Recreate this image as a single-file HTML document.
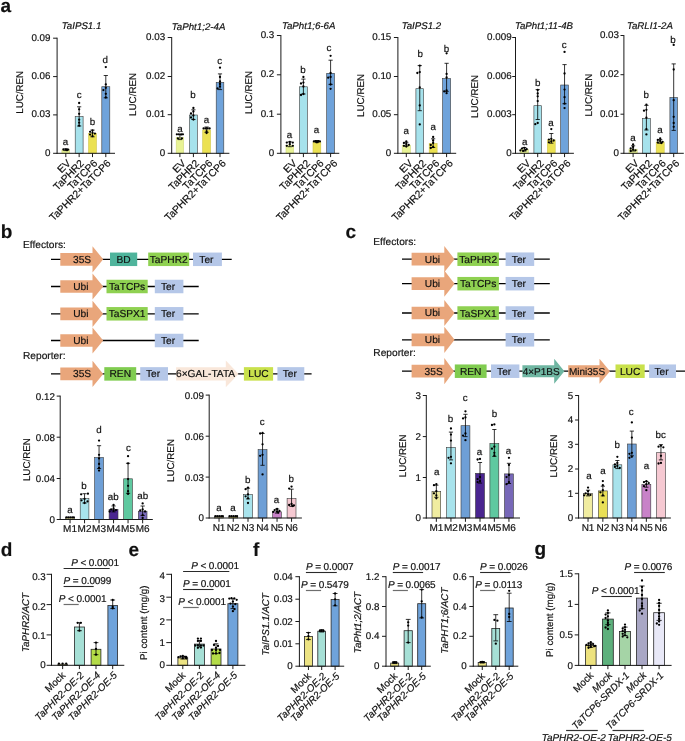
<!DOCTYPE html>
<html><head><meta charset="utf-8"><title>figure</title>
<style>
html,body{margin:0;padding:0;background:#fff;}
body{width:685px;height:741px;overflow:hidden;}
svg{display:block;font-family:"Liberation Sans",Arial,Helvetica,sans-serif;}
text{stroke:#111;stroke-width:0.18px;text-rendering:geometricPrecision;}
</style></head><body>
<svg width="685" height="741" viewBox="0 0 685 741">
<rect x="0" y="0" width="685" height="741" fill="#ffffff"/>
<text x="0.60" y="12.40" font-size="19" text-anchor="start" font-weight="bold" fill="#111" >a</text>
<rect x="61.90" y="150.00" width="7.80" height="3.30" fill="#e8f394" stroke="#cfd97c" stroke-width="0.6"/>
<rect x="75.20" y="116.60" width="7.90" height="36.70" fill="#a6e2ec" stroke="#3a3a3a" stroke-width="0.6"/>
<rect x="88.60" y="133.40" width="7.80" height="19.90" fill="#ebe152" stroke="#cfc548" stroke-width="0.6"/>
<rect x="101.80" y="86.70" width="8.00" height="66.60" fill="#6fa3db" stroke="#3a3a3a" stroke-width="0.6"/>
<line x1="57.10" y1="37.70" x2="57.10" y2="153.80" stroke="#1a1a1a" stroke-width="1.0" />
<line x1="56.60" y1="153.30" x2="115.00" y2="153.30" stroke="#1a1a1a" stroke-width="1.0" />
<line x1="53.10" y1="38.20" x2="57.10" y2="38.20" stroke="#1a1a1a" stroke-width="1.0" />
<text x="50.50" y="40.50" font-size="9.8" text-anchor="end" fill="#111" >0.09</text>
<line x1="53.10" y1="76.60" x2="57.10" y2="76.60" stroke="#1a1a1a" stroke-width="1.0" />
<text x="50.50" y="78.90" font-size="9.8" text-anchor="end" fill="#111" >0.06</text>
<line x1="53.10" y1="114.90" x2="57.10" y2="114.90" stroke="#1a1a1a" stroke-width="1.0" />
<text x="50.50" y="117.20" font-size="9.8" text-anchor="end" fill="#111" >0.03</text>
<line x1="53.10" y1="153.30" x2="57.10" y2="153.30" stroke="#1a1a1a" stroke-width="1.0" />
<text x="50.50" y="155.60" font-size="9.8" text-anchor="end" fill="#111" >0</text>
<line x1="65.80" y1="153.30" x2="65.80" y2="157.10" stroke="#1a1a1a" stroke-width="1.0" />
<line x1="79.15" y1="153.30" x2="79.15" y2="157.10" stroke="#1a1a1a" stroke-width="1.0" />
<line x1="92.50" y1="153.30" x2="92.50" y2="157.10" stroke="#1a1a1a" stroke-width="1.0" />
<line x1="105.80" y1="153.30" x2="105.80" y2="157.10" stroke="#1a1a1a" stroke-width="1.0" />
<line x1="65.80" y1="148.90" x2="65.80" y2="150.60" stroke="#000" stroke-width="0.8" />
<line x1="63.70" y1="148.90" x2="67.90" y2="148.90" stroke="#000" stroke-width="0.8" />
<line x1="63.70" y1="150.60" x2="67.90" y2="150.60" stroke="#000" stroke-width="0.8" />
<line x1="79.15" y1="106.80" x2="79.15" y2="126.00" stroke="#000" stroke-width="0.8" />
<line x1="77.05" y1="106.80" x2="81.25" y2="106.80" stroke="#000" stroke-width="0.8" />
<line x1="77.05" y1="126.00" x2="81.25" y2="126.00" stroke="#000" stroke-width="0.8" />
<line x1="92.50" y1="130.10" x2="92.50" y2="136.80" stroke="#000" stroke-width="0.8" />
<line x1="90.40" y1="130.10" x2="94.60" y2="130.10" stroke="#000" stroke-width="0.8" />
<line x1="90.40" y1="136.80" x2="94.60" y2="136.80" stroke="#000" stroke-width="0.8" />
<line x1="105.80" y1="75.50" x2="105.80" y2="97.80" stroke="#000" stroke-width="0.8" />
<line x1="103.70" y1="75.50" x2="107.90" y2="75.50" stroke="#000" stroke-width="0.8" />
<line x1="103.70" y1="97.80" x2="107.90" y2="97.80" stroke="#000" stroke-width="0.8" />
<circle cx="65.80" cy="149.30" r="1.15" fill="#000"/>
<circle cx="63.40" cy="149.50" r="1.15" fill="#000"/>
<circle cx="68.20" cy="149.60" r="1.15" fill="#000"/>
<circle cx="67.00" cy="149.90" r="1.15" fill="#000"/>
<circle cx="67.00" cy="150.00" r="1.15" fill="#000"/>
<circle cx="67.00" cy="150.10" r="1.15" fill="#000"/>
<circle cx="79.15" cy="103.00" r="1.15" fill="#000"/>
<circle cx="79.15" cy="109.30" r="1.15" fill="#000"/>
<circle cx="79.15" cy="113.80" r="1.15" fill="#000"/>
<circle cx="79.15" cy="119.70" r="1.15" fill="#000"/>
<circle cx="79.15" cy="122.70" r="1.15" fill="#000"/>
<circle cx="79.15" cy="125.70" r="1.15" fill="#000"/>
<circle cx="92.50" cy="130.50" r="1.15" fill="#000"/>
<circle cx="90.10" cy="131.80" r="1.15" fill="#000"/>
<circle cx="92.50" cy="132.80" r="1.15" fill="#000"/>
<circle cx="94.90" cy="133.60" r="1.15" fill="#000"/>
<circle cx="90.10" cy="134.60" r="1.15" fill="#000"/>
<circle cx="92.50" cy="136.20" r="1.15" fill="#000"/>
<circle cx="105.80" cy="67.10" r="1.15" fill="#000"/>
<circle cx="105.80" cy="84.40" r="1.15" fill="#000"/>
<circle cx="105.80" cy="87.80" r="1.15" fill="#000"/>
<circle cx="103.40" cy="90.10" r="1.15" fill="#000"/>
<circle cx="105.80" cy="93.80" r="1.15" fill="#000"/>
<circle cx="105.80" cy="97.50" r="1.15" fill="#000"/>
<text x="65.60" y="145.20" font-size="9.8" text-anchor="middle" fill="#111" >a</text>
<text x="79.10" y="98.30" font-size="9.8" text-anchor="middle" fill="#111" >c</text>
<text x="92.60" y="125.40" font-size="9.8" text-anchor="middle" fill="#111" >b</text>
<text x="105.30" y="63.00" font-size="9.8" text-anchor="middle" fill="#111" >d</text>
<text x="71.30" y="163.90" font-size="10.3" text-anchor="end" transform="rotate(-45 71.30 163.90)" fill="#111" >EV</text>
<text x="84.65" y="163.90" font-size="10.3" text-anchor="end" transform="rotate(-45 84.65 163.90)" fill="#111" >TaPHR2</text>
<text x="98.00" y="163.90" font-size="10.3" text-anchor="end" transform="rotate(-45 98.00 163.90)" fill="#111" >TaTCP6</text>
<text x="111.30" y="163.90" font-size="10.3" text-anchor="end" transform="rotate(-45 111.30 163.90)" fill="#111" >TaPHR2+TaTCP6</text>
<text x="23.40" y="92.30" font-size="9.8" text-anchor="middle" transform="rotate(-90 23.40 92.30)" fill="#111" >LUC/REN</text>
<text x="81.60" y="28.50" font-size="9.7" text-anchor="middle" font-style="italic" fill="#111" >TaIPS1.1</text>
<rect x="176.20" y="137.30" width="7.40" height="16.00" fill="#e8f394" stroke="#cfd97c" stroke-width="0.6"/>
<rect x="189.50" y="115.00" width="7.80" height="38.30" fill="#a6e2ec" stroke="#3a3a3a" stroke-width="0.6"/>
<rect x="202.70" y="129.90" width="7.80" height="23.40" fill="#ebe152" stroke="#cfc548" stroke-width="0.6"/>
<rect x="216.20" y="82.40" width="7.60" height="70.90" fill="#6fa3db" stroke="#3a3a3a" stroke-width="0.6"/>
<line x1="171.70" y1="37.00" x2="171.70" y2="153.80" stroke="#1a1a1a" stroke-width="1.0" />
<line x1="171.20" y1="153.30" x2="229.40" y2="153.30" stroke="#1a1a1a" stroke-width="1.0" />
<line x1="167.70" y1="37.50" x2="171.70" y2="37.50" stroke="#1a1a1a" stroke-width="1.0" />
<text x="165.10" y="39.80" font-size="9.8" text-anchor="end" fill="#111" >0.03</text>
<line x1="167.70" y1="76.50" x2="171.70" y2="76.50" stroke="#1a1a1a" stroke-width="1.0" />
<text x="165.10" y="78.80" font-size="9.8" text-anchor="end" fill="#111" >0.02</text>
<line x1="167.70" y1="114.70" x2="171.70" y2="114.70" stroke="#1a1a1a" stroke-width="1.0" />
<text x="165.10" y="117.00" font-size="9.8" text-anchor="end" fill="#111" >0.01</text>
<line x1="167.70" y1="153.30" x2="171.70" y2="153.30" stroke="#1a1a1a" stroke-width="1.0" />
<text x="165.10" y="155.60" font-size="9.8" text-anchor="end" fill="#111" >0</text>
<line x1="179.90" y1="153.30" x2="179.90" y2="157.10" stroke="#1a1a1a" stroke-width="1.0" />
<line x1="193.40" y1="153.30" x2="193.40" y2="157.10" stroke="#1a1a1a" stroke-width="1.0" />
<line x1="206.60" y1="153.30" x2="206.60" y2="157.10" stroke="#1a1a1a" stroke-width="1.0" />
<line x1="220.00" y1="153.30" x2="220.00" y2="157.10" stroke="#1a1a1a" stroke-width="1.0" />
<line x1="179.90" y1="134.40" x2="179.90" y2="139.60" stroke="#000" stroke-width="0.8" />
<line x1="177.80" y1="134.40" x2="182.00" y2="134.40" stroke="#000" stroke-width="0.8" />
<line x1="177.80" y1="139.60" x2="182.00" y2="139.60" stroke="#000" stroke-width="0.8" />
<line x1="193.40" y1="109.80" x2="193.40" y2="119.50" stroke="#000" stroke-width="0.8" />
<line x1="191.30" y1="109.80" x2="195.50" y2="109.80" stroke="#000" stroke-width="0.8" />
<line x1="191.30" y1="119.50" x2="195.50" y2="119.50" stroke="#000" stroke-width="0.8" />
<line x1="206.60" y1="127.00" x2="206.60" y2="132.30" stroke="#000" stroke-width="0.8" />
<line x1="204.50" y1="127.00" x2="208.70" y2="127.00" stroke="#000" stroke-width="0.8" />
<line x1="204.50" y1="132.30" x2="208.70" y2="132.30" stroke="#000" stroke-width="0.8" />
<line x1="220.00" y1="73.90" x2="220.00" y2="89.60" stroke="#000" stroke-width="0.8" />
<line x1="217.90" y1="73.90" x2="222.10" y2="73.90" stroke="#000" stroke-width="0.8" />
<line x1="217.90" y1="89.60" x2="222.10" y2="89.60" stroke="#000" stroke-width="0.8" />
<circle cx="176.90" cy="134.30" r="1.15" fill="#000"/>
<circle cx="178.90" cy="134.30" r="1.15" fill="#000"/>
<circle cx="181.10" cy="134.50" r="1.15" fill="#000"/>
<circle cx="182.90" cy="134.30" r="1.15" fill="#000"/>
<circle cx="177.90" cy="138.40" r="1.15" fill="#000"/>
<circle cx="181.90" cy="138.40" r="1.15" fill="#000"/>
<circle cx="193.40" cy="108.00" r="1.15" fill="#000"/>
<circle cx="193.40" cy="111.50" r="1.15" fill="#000"/>
<circle cx="191.00" cy="113.50" r="1.15" fill="#000"/>
<circle cx="193.40" cy="115.50" r="1.15" fill="#000"/>
<circle cx="191.00" cy="117.50" r="1.15" fill="#000"/>
<circle cx="193.40" cy="119.50" r="1.15" fill="#000"/>
<circle cx="203.60" cy="128.40" r="1.15" fill="#000"/>
<circle cx="205.60" cy="128.40" r="1.15" fill="#000"/>
<circle cx="207.60" cy="128.40" r="1.15" fill="#000"/>
<circle cx="209.60" cy="128.40" r="1.15" fill="#000"/>
<circle cx="206.60" cy="131.30" r="1.15" fill="#000"/>
<circle cx="206.60" cy="133.00" r="1.15" fill="#000"/>
<circle cx="220.00" cy="67.70" r="1.15" fill="#000"/>
<circle cx="220.00" cy="77.00" r="1.15" fill="#000"/>
<circle cx="220.00" cy="81.50" r="1.15" fill="#000"/>
<circle cx="220.00" cy="84.00" r="1.15" fill="#000"/>
<circle cx="220.00" cy="86.50" r="1.15" fill="#000"/>
<circle cx="217.60" cy="88.50" r="1.15" fill="#000"/>
<text x="179.90" y="132.20" font-size="9.8" text-anchor="middle" fill="#111" >a</text>
<text x="193.10" y="98.30" font-size="9.8" text-anchor="middle" fill="#111" >b</text>
<text x="206.40" y="122.60" font-size="9.8" text-anchor="middle" fill="#111" >a</text>
<text x="219.60" y="63.60" font-size="9.8" text-anchor="middle" fill="#111" >c</text>
<text x="186.40" y="163.90" font-size="10.3" text-anchor="end" transform="rotate(-45 186.40 163.90)" fill="#111" >EV</text>
<text x="199.90" y="163.90" font-size="10.3" text-anchor="end" transform="rotate(-45 199.90 163.90)" fill="#111" >TaPHR2</text>
<text x="213.10" y="163.90" font-size="10.3" text-anchor="end" transform="rotate(-45 213.10 163.90)" fill="#111" >TaTCP6</text>
<text x="226.50" y="163.90" font-size="10.3" text-anchor="end" transform="rotate(-45 226.50 163.90)" fill="#111" >TaPHR2+TaTCP6</text>
<text x="135.60" y="94.40" font-size="9.8" text-anchor="middle" transform="rotate(-90 135.60 94.40)" fill="#111" >LUC/REN</text>
<text x="198.60" y="29.60" font-size="9.7" text-anchor="middle" font-style="italic" fill="#111" >TaPht1;2-4A</text>
<rect x="286.00" y="145.20" width="7.60" height="8.10" fill="#e8f394" stroke="#cfd97c" stroke-width="0.6"/>
<rect x="299.50" y="86.80" width="7.80" height="66.50" fill="#a6e2ec" stroke="#3a3a3a" stroke-width="0.6"/>
<rect x="313.00" y="142.10" width="7.80" height="11.20" fill="#ebe152" stroke="#cfc548" stroke-width="0.6"/>
<rect x="326.70" y="73.30" width="7.80" height="80.00" fill="#6fa3db" stroke="#3a3a3a" stroke-width="0.6"/>
<line x1="280.90" y1="35.00" x2="280.90" y2="153.80" stroke="#1a1a1a" stroke-width="1.0" />
<line x1="280.40" y1="153.30" x2="339.30" y2="153.30" stroke="#1a1a1a" stroke-width="1.0" />
<line x1="276.90" y1="35.50" x2="280.90" y2="35.50" stroke="#1a1a1a" stroke-width="1.0" />
<text x="274.30" y="37.80" font-size="9.8" text-anchor="end" fill="#111" >0.3</text>
<line x1="276.90" y1="74.80" x2="280.90" y2="74.80" stroke="#1a1a1a" stroke-width="1.0" />
<text x="274.30" y="77.10" font-size="9.8" text-anchor="end" fill="#111" >0.2</text>
<line x1="276.90" y1="114.20" x2="280.90" y2="114.20" stroke="#1a1a1a" stroke-width="1.0" />
<text x="274.30" y="116.50" font-size="9.8" text-anchor="end" fill="#111" >0.1</text>
<line x1="276.90" y1="153.30" x2="280.90" y2="153.30" stroke="#1a1a1a" stroke-width="1.0" />
<text x="274.30" y="155.60" font-size="9.8" text-anchor="end" fill="#111" >0</text>
<line x1="289.80" y1="153.30" x2="289.80" y2="157.10" stroke="#1a1a1a" stroke-width="1.0" />
<line x1="303.40" y1="153.30" x2="303.40" y2="157.10" stroke="#1a1a1a" stroke-width="1.0" />
<line x1="316.90" y1="153.30" x2="316.90" y2="157.10" stroke="#1a1a1a" stroke-width="1.0" />
<line x1="330.60" y1="153.30" x2="330.60" y2="157.10" stroke="#1a1a1a" stroke-width="1.0" />
<line x1="289.80" y1="141.90" x2="289.80" y2="146.70" stroke="#000" stroke-width="0.8" />
<line x1="287.70" y1="141.90" x2="291.90" y2="141.90" stroke="#000" stroke-width="0.8" />
<line x1="287.70" y1="146.70" x2="291.90" y2="146.70" stroke="#000" stroke-width="0.8" />
<line x1="303.40" y1="79.10" x2="303.40" y2="94.00" stroke="#000" stroke-width="0.8" />
<line x1="301.30" y1="79.10" x2="305.50" y2="79.10" stroke="#000" stroke-width="0.8" />
<line x1="301.30" y1="94.00" x2="305.50" y2="94.00" stroke="#000" stroke-width="0.8" />
<line x1="316.90" y1="140.50" x2="316.90" y2="142.60" stroke="#000" stroke-width="0.8" />
<line x1="314.80" y1="140.50" x2="319.00" y2="140.50" stroke="#000" stroke-width="0.8" />
<line x1="314.80" y1="142.60" x2="319.00" y2="142.60" stroke="#000" stroke-width="0.8" />
<line x1="330.60" y1="60.20" x2="330.60" y2="84.40" stroke="#000" stroke-width="0.8" />
<line x1="328.50" y1="60.20" x2="332.70" y2="60.20" stroke="#000" stroke-width="0.8" />
<line x1="328.50" y1="84.40" x2="332.70" y2="84.40" stroke="#000" stroke-width="0.8" />
<circle cx="286.80" cy="142.60" r="1.15" fill="#000"/>
<circle cx="292.80" cy="142.60" r="1.15" fill="#000"/>
<circle cx="286.80" cy="145.80" r="1.15" fill="#000"/>
<circle cx="292.80" cy="145.80" r="1.15" fill="#000"/>
<circle cx="289.80" cy="144.20" r="1.15" fill="#000"/>
<circle cx="289.80" cy="142.00" r="1.15" fill="#000"/>
<circle cx="303.40" cy="77.00" r="1.15" fill="#000"/>
<circle cx="303.40" cy="82.60" r="1.15" fill="#000"/>
<circle cx="301.00" cy="83.50" r="1.15" fill="#000"/>
<circle cx="303.40" cy="86.50" r="1.15" fill="#000"/>
<circle cx="303.40" cy="94.00" r="1.15" fill="#000"/>
<circle cx="301.00" cy="95.00" r="1.15" fill="#000"/>
<circle cx="313.90" cy="141.40" r="1.15" fill="#000"/>
<circle cx="315.40" cy="141.20" r="1.15" fill="#000"/>
<circle cx="316.90" cy="141.40" r="1.15" fill="#000"/>
<circle cx="318.40" cy="141.20" r="1.15" fill="#000"/>
<circle cx="319.90" cy="141.40" r="1.15" fill="#000"/>
<circle cx="316.90" cy="142.30" r="1.15" fill="#000"/>
<circle cx="330.60" cy="55.80" r="1.15" fill="#000"/>
<circle cx="330.60" cy="73.00" r="1.15" fill="#000"/>
<circle cx="330.60" cy="77.00" r="1.15" fill="#000"/>
<circle cx="328.20" cy="77.70" r="1.15" fill="#000"/>
<circle cx="330.60" cy="84.50" r="1.15" fill="#000"/>
<circle cx="330.60" cy="88.80" r="1.15" fill="#000"/>
<text x="289.50" y="138.20" font-size="9.8" text-anchor="middle" fill="#111" >a</text>
<text x="303.00" y="73.40" font-size="9.8" text-anchor="middle" fill="#111" >b</text>
<text x="316.40" y="133.40" font-size="9.8" text-anchor="middle" fill="#111" >a</text>
<text x="329.00" y="51.00" font-size="9.8" text-anchor="middle" fill="#111" >c</text>
<text x="297.30" y="163.90" font-size="10.3" text-anchor="end" transform="rotate(-45 297.30 163.90)" fill="#111" >EV</text>
<text x="310.90" y="163.90" font-size="10.3" text-anchor="end" transform="rotate(-45 310.90 163.90)" fill="#111" >TaPHR2</text>
<text x="324.40" y="163.90" font-size="10.3" text-anchor="end" transform="rotate(-45 324.40 163.90)" fill="#111" >TaTCP6</text>
<text x="338.10" y="163.90" font-size="10.3" text-anchor="end" transform="rotate(-45 338.10 163.90)" fill="#111" >TaPHR2+TaTCP6</text>
<text x="252.00" y="92.40" font-size="9.8" text-anchor="middle" transform="rotate(-90 252.00 92.40)" fill="#111" >LUC/REN</text>
<text x="308.70" y="29.10" font-size="9.7" text-anchor="middle" font-style="italic" fill="#111" >TaPht1;6-6A</text>
<rect x="402.20" y="145.20" width="8.20" height="8.10" fill="#e8f394" stroke="#cfd97c" stroke-width="0.6"/>
<rect x="415.90" y="88.70" width="7.70" height="64.60" fill="#a6e2ec" stroke="#3a3a3a" stroke-width="0.6"/>
<rect x="429.20" y="143.50" width="7.90" height="9.80" fill="#ebe152" stroke="#cfc548" stroke-width="0.6"/>
<rect x="442.60" y="78.50" width="8.00" height="74.80" fill="#6fa3db" stroke="#3a3a3a" stroke-width="0.6"/>
<line x1="397.90" y1="37.00" x2="397.90" y2="153.80" stroke="#1a1a1a" stroke-width="1.0" />
<line x1="397.40" y1="153.30" x2="456.20" y2="153.30" stroke="#1a1a1a" stroke-width="1.0" />
<line x1="393.90" y1="37.50" x2="397.90" y2="37.50" stroke="#1a1a1a" stroke-width="1.0" />
<text x="391.30" y="39.80" font-size="9.8" text-anchor="end" fill="#111" >0.15</text>
<line x1="393.90" y1="76.50" x2="397.90" y2="76.50" stroke="#1a1a1a" stroke-width="1.0" />
<text x="391.30" y="78.80" font-size="9.8" text-anchor="end" fill="#111" >0.10</text>
<line x1="393.90" y1="114.70" x2="397.90" y2="114.70" stroke="#1a1a1a" stroke-width="1.0" />
<text x="391.30" y="117.00" font-size="9.8" text-anchor="end" fill="#111" >0.05</text>
<line x1="393.90" y1="153.30" x2="397.90" y2="153.30" stroke="#1a1a1a" stroke-width="1.0" />
<text x="391.30" y="155.60" font-size="9.8" text-anchor="end" fill="#111" >0</text>
<line x1="406.30" y1="153.30" x2="406.30" y2="157.10" stroke="#1a1a1a" stroke-width="1.0" />
<line x1="419.75" y1="153.30" x2="419.75" y2="157.10" stroke="#1a1a1a" stroke-width="1.0" />
<line x1="433.15" y1="153.30" x2="433.15" y2="157.10" stroke="#1a1a1a" stroke-width="1.0" />
<line x1="446.60" y1="153.30" x2="446.60" y2="157.10" stroke="#1a1a1a" stroke-width="1.0" />
<line x1="406.30" y1="142.30" x2="406.30" y2="146.10" stroke="#000" stroke-width="0.8" />
<line x1="404.20" y1="142.30" x2="408.40" y2="142.30" stroke="#000" stroke-width="0.8" />
<line x1="404.20" y1="146.10" x2="408.40" y2="146.10" stroke="#000" stroke-width="0.8" />
<line x1="419.75" y1="65.60" x2="419.75" y2="110.70" stroke="#000" stroke-width="0.8" />
<line x1="417.65" y1="65.60" x2="421.85" y2="65.60" stroke="#000" stroke-width="0.8" />
<line x1="417.65" y1="110.70" x2="421.85" y2="110.70" stroke="#000" stroke-width="0.8" />
<line x1="433.15" y1="138.80" x2="433.15" y2="147.50" stroke="#000" stroke-width="0.8" />
<line x1="431.05" y1="138.80" x2="435.25" y2="138.80" stroke="#000" stroke-width="0.8" />
<line x1="431.05" y1="147.50" x2="435.25" y2="147.50" stroke="#000" stroke-width="0.8" />
<line x1="446.60" y1="63.30" x2="446.60" y2="91.40" stroke="#000" stroke-width="0.8" />
<line x1="444.50" y1="63.30" x2="448.70" y2="63.30" stroke="#000" stroke-width="0.8" />
<line x1="444.50" y1="91.40" x2="448.70" y2="91.40" stroke="#000" stroke-width="0.8" />
<circle cx="406.30" cy="141.50" r="1.15" fill="#000"/>
<circle cx="403.90" cy="143.00" r="1.15" fill="#000"/>
<circle cx="406.30" cy="144.00" r="1.15" fill="#000"/>
<circle cx="408.70" cy="145.00" r="1.15" fill="#000"/>
<circle cx="403.90" cy="145.80" r="1.15" fill="#000"/>
<circle cx="406.30" cy="146.50" r="1.15" fill="#000"/>
<circle cx="419.75" cy="65.60" r="1.15" fill="#000"/>
<circle cx="419.75" cy="72.10" r="1.15" fill="#000"/>
<circle cx="417.35" cy="73.00" r="1.15" fill="#000"/>
<circle cx="419.75" cy="87.40" r="1.15" fill="#000"/>
<circle cx="419.75" cy="105.40" r="1.15" fill="#000"/>
<circle cx="419.75" cy="124.40" r="1.15" fill="#000"/>
<circle cx="433.15" cy="137.00" r="1.15" fill="#000"/>
<circle cx="433.15" cy="140.50" r="1.15" fill="#000"/>
<circle cx="433.15" cy="143.00" r="1.15" fill="#000"/>
<circle cx="430.75" cy="145.00" r="1.15" fill="#000"/>
<circle cx="433.15" cy="147.00" r="1.15" fill="#000"/>
<circle cx="430.75" cy="148.00" r="1.15" fill="#000"/>
<circle cx="446.60" cy="53.30" r="1.15" fill="#000"/>
<circle cx="446.60" cy="73.90" r="1.15" fill="#000"/>
<circle cx="446.60" cy="77.40" r="1.15" fill="#000"/>
<circle cx="446.60" cy="90.50" r="1.15" fill="#000"/>
<circle cx="444.20" cy="91.40" r="1.15" fill="#000"/>
<circle cx="446.60" cy="93.20" r="1.15" fill="#000"/>
<text x="406.30" y="134.30" font-size="9.8" text-anchor="middle" fill="#111" >a</text>
<text x="420.20" y="57.10" font-size="9.8" text-anchor="middle" fill="#111" >b</text>
<text x="433.20" y="129.90" font-size="9.8" text-anchor="middle" fill="#111" >a</text>
<text x="446.50" y="51.50" font-size="9.8" text-anchor="middle" fill="#111" >b</text>
<text x="413.30" y="163.90" font-size="10.3" text-anchor="end" transform="rotate(-45 413.30 163.90)" fill="#111" >EV</text>
<text x="426.75" y="163.90" font-size="10.3" text-anchor="end" transform="rotate(-45 426.75 163.90)" fill="#111" >TaPHR2</text>
<text x="440.15" y="163.90" font-size="10.3" text-anchor="end" transform="rotate(-45 440.15 163.90)" fill="#111" >TaTCP6</text>
<text x="453.60" y="163.90" font-size="10.3" text-anchor="end" transform="rotate(-45 453.60 163.90)" fill="#111" >TaPHR2+TaTCP6</text>
<text x="364.20" y="95.40" font-size="9.8" text-anchor="middle" transform="rotate(-90 364.20 95.40)" fill="#111" >LUC/REN</text>
<text x="421.40" y="29.00" font-size="9.7" text-anchor="middle" font-style="italic" fill="#111" >TaIPS1.2</text>
<rect x="520.20" y="149.60" width="8.20" height="3.70" fill="#e8f394" stroke="#cfd97c" stroke-width="0.6"/>
<rect x="533.90" y="105.70" width="7.60" height="47.60" fill="#a6e2ec" stroke="#3a3a3a" stroke-width="0.6"/>
<rect x="547.40" y="139.90" width="7.80" height="13.40" fill="#ebe152" stroke="#cfc548" stroke-width="0.6"/>
<rect x="560.70" y="85.00" width="7.70" height="68.30" fill="#6fa3db" stroke="#3a3a3a" stroke-width="0.6"/>
<line x1="515.50" y1="37.00" x2="515.50" y2="153.80" stroke="#1a1a1a" stroke-width="1.0" />
<line x1="515.00" y1="153.30" x2="573.90" y2="153.30" stroke="#1a1a1a" stroke-width="1.0" />
<line x1="512.20" y1="37.50" x2="515.50" y2="37.50" stroke="#1a1a1a" stroke-width="1.0" />
<text x="511.60" y="39.80" font-size="9.8" text-anchor="end" fill="#111" >0.009</text>
<line x1="512.20" y1="76.50" x2="515.50" y2="76.50" stroke="#1a1a1a" stroke-width="1.0" />
<text x="511.60" y="78.80" font-size="9.8" text-anchor="end" fill="#111" >0.006</text>
<line x1="512.20" y1="114.70" x2="515.50" y2="114.70" stroke="#1a1a1a" stroke-width="1.0" />
<text x="511.60" y="117.00" font-size="9.8" text-anchor="end" fill="#111" >0.003</text>
<line x1="512.20" y1="153.30" x2="515.50" y2="153.30" stroke="#1a1a1a" stroke-width="1.0" />
<text x="511.60" y="155.60" font-size="9.8" text-anchor="end" fill="#111" >0</text>
<line x1="524.30" y1="153.30" x2="524.30" y2="157.10" stroke="#1a1a1a" stroke-width="1.0" />
<line x1="537.70" y1="153.30" x2="537.70" y2="157.10" stroke="#1a1a1a" stroke-width="1.0" />
<line x1="551.30" y1="153.30" x2="551.30" y2="157.10" stroke="#1a1a1a" stroke-width="1.0" />
<line x1="564.55" y1="153.30" x2="564.55" y2="157.10" stroke="#1a1a1a" stroke-width="1.0" />
<line x1="524.30" y1="147.50" x2="524.30" y2="151.10" stroke="#000" stroke-width="0.8" />
<line x1="522.20" y1="147.50" x2="526.40" y2="147.50" stroke="#000" stroke-width="0.8" />
<line x1="522.20" y1="151.10" x2="526.40" y2="151.10" stroke="#000" stroke-width="0.8" />
<line x1="537.70" y1="89.60" x2="537.70" y2="119.50" stroke="#000" stroke-width="0.8" />
<line x1="535.60" y1="89.60" x2="539.80" y2="89.60" stroke="#000" stroke-width="0.8" />
<line x1="535.60" y1="119.50" x2="539.80" y2="119.50" stroke="#000" stroke-width="0.8" />
<line x1="551.30" y1="133.50" x2="551.30" y2="143.20" stroke="#000" stroke-width="0.8" />
<line x1="549.20" y1="133.50" x2="553.40" y2="133.50" stroke="#000" stroke-width="0.8" />
<line x1="549.20" y1="143.20" x2="553.40" y2="143.20" stroke="#000" stroke-width="0.8" />
<line x1="564.55" y1="64.60" x2="564.55" y2="103.70" stroke="#000" stroke-width="0.8" />
<line x1="562.45" y1="64.60" x2="566.65" y2="64.60" stroke="#000" stroke-width="0.8" />
<line x1="562.45" y1="103.70" x2="566.65" y2="103.70" stroke="#000" stroke-width="0.8" />
<circle cx="524.30" cy="147.80" r="1.15" fill="#000"/>
<circle cx="521.90" cy="148.60" r="1.15" fill="#000"/>
<circle cx="526.70" cy="149.20" r="1.15" fill="#000"/>
<circle cx="525.50" cy="149.80" r="1.15" fill="#000"/>
<circle cx="520.40" cy="150.40" r="1.15" fill="#000"/>
<circle cx="523.10" cy="150.90" r="1.15" fill="#000"/>
<circle cx="537.70" cy="90.00" r="1.15" fill="#000"/>
<circle cx="537.70" cy="93.50" r="1.15" fill="#000"/>
<circle cx="537.70" cy="96.30" r="1.15" fill="#000"/>
<circle cx="537.70" cy="101.10" r="1.15" fill="#000"/>
<circle cx="537.70" cy="123.00" r="1.15" fill="#000"/>
<circle cx="535.30" cy="124.20" r="1.15" fill="#000"/>
<circle cx="551.30" cy="129.10" r="1.15" fill="#000"/>
<circle cx="551.30" cy="138.80" r="1.15" fill="#000"/>
<circle cx="548.90" cy="139.60" r="1.15" fill="#000"/>
<circle cx="553.70" cy="140.50" r="1.15" fill="#000"/>
<circle cx="551.30" cy="141.40" r="1.15" fill="#000"/>
<circle cx="548.90" cy="142.30" r="1.15" fill="#000"/>
<circle cx="564.55" cy="51.90" r="1.15" fill="#000"/>
<circle cx="564.55" cy="73.50" r="1.15" fill="#000"/>
<circle cx="564.55" cy="89.60" r="1.15" fill="#000"/>
<circle cx="564.55" cy="97.20" r="1.15" fill="#000"/>
<circle cx="564.55" cy="103.70" r="1.15" fill="#000"/>
<circle cx="564.55" cy="108.10" r="1.15" fill="#000"/>
<text x="524.80" y="144.80" font-size="9.8" text-anchor="middle" fill="#111" >a</text>
<text x="537.80" y="85.50" font-size="9.8" text-anchor="middle" fill="#111" >b</text>
<text x="551.10" y="126.10" font-size="9.8" text-anchor="middle" fill="#111" >a</text>
<text x="564.30" y="47.50" font-size="9.8" text-anchor="middle" fill="#111" >c</text>
<text x="531.10" y="163.90" font-size="10.3" text-anchor="end" transform="rotate(-45 531.10 163.90)" fill="#111" >EV</text>
<text x="544.50" y="163.90" font-size="10.3" text-anchor="end" transform="rotate(-45 544.50 163.90)" fill="#111" >TaPHR2</text>
<text x="558.10" y="163.90" font-size="10.3" text-anchor="end" transform="rotate(-45 558.10 163.90)" fill="#111" >TaTCP6</text>
<text x="571.35" y="163.90" font-size="10.3" text-anchor="end" transform="rotate(-45 571.35 163.90)" fill="#111" >TaPHR2+TaTCP6</text>
<text x="477.70" y="96.40" font-size="9.8" text-anchor="middle" transform="rotate(-90 477.70 96.40)" fill="#111" >LUC/REN</text>
<text x="544.00" y="29.40" font-size="9.7" text-anchor="middle" font-style="italic" fill="#111" >TaPht1;11-4B</text>
<rect x="629.00" y="149.20" width="8.20" height="4.10" fill="#e8f394" stroke="#cfd97c" stroke-width="0.6"/>
<rect x="642.50" y="118.50" width="7.80" height="34.80" fill="#a6e2ec" stroke="#3a3a3a" stroke-width="0.6"/>
<rect x="656.20" y="142.10" width="8.00" height="11.20" fill="#ebe152" stroke="#cfc548" stroke-width="0.6"/>
<rect x="669.90" y="97.50" width="7.60" height="55.80" fill="#6fa3db" stroke="#3a3a3a" stroke-width="0.6"/>
<line x1="623.90" y1="35.00" x2="623.90" y2="153.80" stroke="#1a1a1a" stroke-width="1.0" />
<line x1="623.40" y1="153.30" x2="683.80" y2="153.30" stroke="#1a1a1a" stroke-width="1.0" />
<line x1="620.50" y1="35.50" x2="623.90" y2="35.50" stroke="#1a1a1a" stroke-width="1.0" />
<text x="619.00" y="37.80" font-size="9.8" text-anchor="end" fill="#111" >0.03</text>
<line x1="620.50" y1="74.70" x2="623.90" y2="74.70" stroke="#1a1a1a" stroke-width="1.0" />
<text x="619.00" y="77.00" font-size="9.8" text-anchor="end" fill="#111" >0.02</text>
<line x1="620.50" y1="114.20" x2="623.90" y2="114.20" stroke="#1a1a1a" stroke-width="1.0" />
<text x="619.00" y="116.50" font-size="9.8" text-anchor="end" fill="#111" >0.01</text>
<line x1="620.50" y1="153.30" x2="623.90" y2="153.30" stroke="#1a1a1a" stroke-width="1.0" />
<text x="619.00" y="155.60" font-size="9.8" text-anchor="end" fill="#111" >0</text>
<line x1="633.10" y1="153.30" x2="633.10" y2="157.10" stroke="#1a1a1a" stroke-width="1.0" />
<line x1="646.40" y1="153.30" x2="646.40" y2="157.10" stroke="#1a1a1a" stroke-width="1.0" />
<line x1="660.20" y1="153.30" x2="660.20" y2="157.10" stroke="#1a1a1a" stroke-width="1.0" />
<line x1="673.70" y1="153.30" x2="673.70" y2="157.10" stroke="#1a1a1a" stroke-width="1.0" />
<line x1="633.10" y1="145.80" x2="633.10" y2="151.00" stroke="#000" stroke-width="0.8" />
<line x1="631.00" y1="145.80" x2="635.20" y2="145.80" stroke="#000" stroke-width="0.8" />
<line x1="631.00" y1="151.00" x2="635.20" y2="151.00" stroke="#000" stroke-width="0.8" />
<line x1="646.40" y1="105.40" x2="646.40" y2="130.00" stroke="#000" stroke-width="0.8" />
<line x1="644.30" y1="105.40" x2="648.50" y2="105.40" stroke="#000" stroke-width="0.8" />
<line x1="644.30" y1="130.00" x2="648.50" y2="130.00" stroke="#000" stroke-width="0.8" />
<line x1="660.20" y1="139.60" x2="660.20" y2="143.20" stroke="#000" stroke-width="0.8" />
<line x1="658.10" y1="139.60" x2="662.30" y2="139.60" stroke="#000" stroke-width="0.8" />
<line x1="658.10" y1="143.20" x2="662.30" y2="143.20" stroke="#000" stroke-width="0.8" />
<line x1="673.70" y1="63.90" x2="673.70" y2="130.40" stroke="#000" stroke-width="0.8" />
<line x1="671.60" y1="63.90" x2="675.80" y2="63.90" stroke="#000" stroke-width="0.8" />
<line x1="671.60" y1="130.40" x2="675.80" y2="130.40" stroke="#000" stroke-width="0.8" />
<circle cx="633.10" cy="144.50" r="1.15" fill="#000"/>
<circle cx="633.10" cy="147.00" r="1.15" fill="#000"/>
<circle cx="630.70" cy="148.50" r="1.15" fill="#000"/>
<circle cx="633.10" cy="149.50" r="1.15" fill="#000"/>
<circle cx="635.50" cy="150.30" r="1.15" fill="#000"/>
<circle cx="630.70" cy="151.00" r="1.15" fill="#000"/>
<circle cx="646.40" cy="104.60" r="1.15" fill="#000"/>
<circle cx="646.40" cy="109.80" r="1.15" fill="#000"/>
<circle cx="644.00" cy="110.70" r="1.15" fill="#000"/>
<circle cx="646.40" cy="117.70" r="1.15" fill="#000"/>
<circle cx="646.40" cy="129.10" r="1.15" fill="#000"/>
<circle cx="646.40" cy="134.40" r="1.15" fill="#000"/>
<circle cx="660.20" cy="138.50" r="1.15" fill="#000"/>
<circle cx="657.80" cy="140.00" r="1.15" fill="#000"/>
<circle cx="660.20" cy="141.00" r="1.15" fill="#000"/>
<circle cx="662.60" cy="141.80" r="1.15" fill="#000"/>
<circle cx="657.80" cy="142.50" r="1.15" fill="#000"/>
<circle cx="661.40" cy="143.00" r="1.15" fill="#000"/>
<circle cx="673.70" cy="44.90" r="1.15" fill="#000"/>
<circle cx="673.70" cy="69.50" r="1.15" fill="#000"/>
<circle cx="673.70" cy="100.20" r="1.15" fill="#000"/>
<circle cx="673.70" cy="116.80" r="1.15" fill="#000"/>
<circle cx="673.70" cy="123.00" r="1.15" fill="#000"/>
<circle cx="673.70" cy="126.80" r="1.15" fill="#000"/>
<text x="633.10" y="141.30" font-size="9.8" text-anchor="middle" fill="#111" >a</text>
<text x="646.20" y="98.30" font-size="9.8" text-anchor="middle" fill="#111" >b</text>
<text x="659.90" y="133.10" font-size="9.8" text-anchor="middle" fill="#111" >a</text>
<text x="672.90" y="43.10" font-size="9.8" text-anchor="middle" fill="#111" >b</text>
<text x="639.40" y="163.90" font-size="10.3" text-anchor="end" transform="rotate(-45 639.40 163.90)" fill="#111" >EV</text>
<text x="652.70" y="163.90" font-size="10.3" text-anchor="end" transform="rotate(-45 652.70 163.90)" fill="#111" >TaPHR2</text>
<text x="666.50" y="163.90" font-size="10.3" text-anchor="end" transform="rotate(-45 666.50 163.90)" fill="#111" >TaTCP6</text>
<text x="680.00" y="163.90" font-size="10.3" text-anchor="end" transform="rotate(-45 680.00 163.90)" fill="#111" >TaPHR2+TaTCP6</text>
<text x="591.70" y="95.10" font-size="9.8" text-anchor="middle" transform="rotate(-90 591.70 95.10)" fill="#111" >LUC/REN</text>
<text x="649.90" y="29.40" font-size="9.7" text-anchor="middle" font-style="italic" fill="#111" >TaRLI1-2A</text>
<text x="0.80" y="237.60" font-size="19" text-anchor="start" font-weight="bold" fill="#111" >b</text>
<text x="23.00" y="247.60" font-size="10.2" text-anchor="start" fill="#111" >Effectors:</text>
<text x="23.00" y="359.00" font-size="10.2" text-anchor="start" fill="#111" >Reporter:</text>
<line x1="51.00" y1="259.30" x2="231.70" y2="259.30" stroke="#000" stroke-width="1.3" />
<polygon points="60.30,252.95 92.50,252.95 92.50,246.20 103.20,259.30 92.50,272.40 92.50,265.65 60.30,265.65" fill="#e9a67b"/>
<text x="82.10" y="262.70" font-size="10.2" text-anchor="middle" fill="#111" >35S</text>
<rect x="110.00" y="252.55" width="27.20" height="13.50" fill="#4fb49c"/>
<text x="123.60" y="262.80" font-size="10.2" text-anchor="middle" fill="#111" >BD</text>
<rect x="148.20" y="252.55" width="41.00" height="13.50" fill="#8fd151"/>
<text x="168.70" y="262.80" font-size="10.2" text-anchor="middle" fill="#111" >TaPHR2</text>
<rect x="193.00" y="252.55" width="28.90" height="13.50" fill="#b5c7e8"/>
<text x="206.45" y="262.80" font-size="10.2" text-anchor="middle" fill="#111" >Ter</text>
<line x1="51.00" y1="286.50" x2="198.70" y2="286.50" stroke="#000" stroke-width="1.3" />
<polygon points="60.30,280.15 92.50,280.15 92.50,273.40 103.20,286.50 92.50,299.60 92.50,292.85 60.30,292.85" fill="#e9a67b"/>
<text x="80.90" y="289.90" font-size="10.2" text-anchor="middle" fill="#111" >Ubi</text>
<rect x="106.50" y="279.75" width="41.20" height="13.50" fill="#8fd151"/>
<text x="127.10" y="290.00" font-size="10.2" text-anchor="middle" fill="#111" >TaTCPs</text>
<rect x="154.80" y="279.75" width="28.60" height="13.50" fill="#b5c7e8"/>
<text x="168.10" y="290.00" font-size="10.2" text-anchor="middle" fill="#111" >Ter</text>
<line x1="51.00" y1="313.80" x2="198.70" y2="313.80" stroke="#000" stroke-width="1.3" />
<polygon points="60.30,307.45 92.50,307.45 92.50,300.70 103.20,313.80 92.50,326.90 92.50,320.15 60.30,320.15" fill="#e9a67b"/>
<text x="80.90" y="317.20" font-size="10.2" text-anchor="middle" fill="#111" >Ubi</text>
<rect x="106.50" y="307.05" width="41.20" height="13.50" fill="#8fd151"/>
<text x="127.10" y="317.30" font-size="10.2" text-anchor="middle" fill="#111" >TaSPX1</text>
<rect x="154.80" y="307.05" width="28.60" height="13.50" fill="#b5c7e8"/>
<text x="168.10" y="317.30" font-size="10.2" text-anchor="middle" fill="#111" >Ter</text>
<line x1="51.00" y1="340.50" x2="198.70" y2="340.50" stroke="#000" stroke-width="1.3" />
<polygon points="60.30,334.15 92.50,334.15 92.50,327.40 103.20,340.50 92.50,353.60 92.50,346.85 60.30,346.85" fill="#e9a67b"/>
<text x="80.90" y="343.90" font-size="10.2" text-anchor="middle" fill="#111" >Ubi</text>
<rect x="154.80" y="333.75" width="28.60" height="13.50" fill="#b5c7e8"/>
<text x="168.10" y="344.00" font-size="10.2" text-anchor="middle" fill="#111" >Ter</text>
<line x1="51.00" y1="373.90" x2="311.60" y2="373.90" stroke="#000" stroke-width="1.3" />
<polygon points="60.30,367.55 92.50,367.55 92.50,360.80 103.20,373.90 92.50,387.00 92.50,380.25 60.30,380.25" fill="#e9a67b"/>
<text x="82.10" y="377.30" font-size="10.2" text-anchor="middle" fill="#111" >35S</text>
<rect x="104.30" y="367.15" width="31.90" height="13.50" fill="#80cc50"/>
<text x="120.25" y="377.40" font-size="10.2" text-anchor="middle" fill="#111" >REN</text>
<rect x="140.20" y="367.15" width="27.80" height="13.50" fill="#b5c7e8"/>
<text x="153.10" y="377.40" font-size="10.2" text-anchor="middle" fill="#111" >Ter</text>
<polygon points="176.10,367.30 225.80,367.30 225.80,360.60 238.60,373.90 225.80,387.20 225.80,380.50 176.10,380.50" fill="#f9e7da"/>
<text x="205.60" y="377.30" font-size="10.2" text-anchor="middle" fill="#111" >6×GAL-TATA</text>
<rect x="243.90" y="367.15" width="29.20" height="13.50" fill="#c9e14c"/>
<text x="258.50" y="377.40" font-size="10.2" text-anchor="middle" fill="#111" >LUC</text>
<rect x="277.40" y="367.15" width="26.90" height="13.50" fill="#b5c7e8"/>
<text x="289.85" y="377.40" font-size="10.2" text-anchor="middle" fill="#111" >Ter</text>
<text x="345.60" y="238.00" font-size="19" text-anchor="start" font-weight="bold" fill="#111" >c</text>
<text x="373.30" y="244.90" font-size="10.2" text-anchor="start" fill="#111" >Effectors:</text>
<text x="373.30" y="355.90" font-size="10.2" text-anchor="start" fill="#111" >Reporter:</text>
<line x1="402.00" y1="259.20" x2="549.80" y2="259.20" stroke="#000" stroke-width="1.3" />
<polygon points="411.60,252.85 444.30,252.85 444.30,246.10 454.60,259.20 444.30,272.30 444.30,265.55 411.60,265.55" fill="#e9a67b"/>
<text x="432.45" y="262.60" font-size="10.2" text-anchor="middle" fill="#111" >Ubi</text>
<rect x="457.40" y="252.45" width="41.50" height="13.50" fill="#8fd151"/>
<text x="478.15" y="262.70" font-size="10.2" text-anchor="middle" fill="#111" >TaPHR2</text>
<rect x="505.60" y="252.45" width="28.60" height="13.50" fill="#b5c7e8"/>
<text x="518.90" y="262.70" font-size="10.2" text-anchor="middle" fill="#111" >Ter</text>
<line x1="402.00" y1="283.70" x2="549.80" y2="283.70" stroke="#000" stroke-width="1.3" />
<polygon points="411.60,277.35 444.30,277.35 444.30,270.60 454.60,283.70 444.30,296.80 444.30,290.05 411.60,290.05" fill="#e9a67b"/>
<text x="432.45" y="287.10" font-size="10.2" text-anchor="middle" fill="#111" >Ubi</text>
<rect x="457.40" y="276.95" width="41.50" height="13.50" fill="#8fd151"/>
<text x="478.15" y="287.20" font-size="10.2" text-anchor="middle" fill="#111" >TaTCPs</text>
<rect x="505.60" y="276.95" width="28.60" height="13.50" fill="#b5c7e8"/>
<text x="518.90" y="287.20" font-size="10.2" text-anchor="middle" fill="#111" >Ter</text>
<line x1="402.00" y1="313.00" x2="549.80" y2="313.00" stroke="#000" stroke-width="1.3" />
<polygon points="411.60,306.65 444.30,306.65 444.30,299.90 454.60,313.00 444.30,326.10 444.30,319.35 411.60,319.35" fill="#e9a67b"/>
<text x="432.45" y="316.40" font-size="10.2" text-anchor="middle" fill="#111" >Ubi</text>
<rect x="457.40" y="306.25" width="41.50" height="13.50" fill="#8fd151"/>
<text x="478.15" y="316.50" font-size="10.2" text-anchor="middle" fill="#111" >TaSPX1</text>
<rect x="505.60" y="306.25" width="28.60" height="13.50" fill="#b5c7e8"/>
<text x="518.90" y="316.50" font-size="10.2" text-anchor="middle" fill="#111" >Ter</text>
<line x1="402.00" y1="339.80" x2="549.80" y2="339.80" stroke="#000" stroke-width="1.3" />
<polygon points="411.60,333.45 444.30,333.45 444.30,326.70 454.60,339.80 444.30,352.90 444.30,346.15 411.60,346.15" fill="#e9a67b"/>
<text x="432.45" y="343.20" font-size="10.2" text-anchor="middle" fill="#111" >Ubi</text>
<rect x="505.60" y="333.05" width="28.60" height="13.50" fill="#b5c7e8"/>
<text x="518.90" y="343.30" font-size="10.2" text-anchor="middle" fill="#111" >Ter</text>
<line x1="402.00" y1="371.20" x2="685.00" y2="371.20" stroke="#000" stroke-width="1.3" />
<polygon points="411.60,364.85 444.30,364.85 444.30,358.10 454.00,371.20 444.30,384.30 444.30,377.55 411.60,377.55" fill="#e9a67b"/>
<text x="433.65" y="374.60" font-size="10.2" text-anchor="middle" fill="#111" >35S</text>
<rect x="454.80" y="364.45" width="31.80" height="13.50" fill="#80cc50"/>
<text x="470.70" y="374.70" font-size="10.2" text-anchor="middle" fill="#111" >REN</text>
<rect x="491.00" y="364.45" width="28.40" height="13.50" fill="#b5c7e8"/>
<text x="504.20" y="374.70" font-size="10.2" text-anchor="middle" fill="#111" >Ter</text>
<polygon points="522.40,365.20 554.20,365.20 554.20,358.70 564.40,371.20 554.20,383.70 554.20,377.20 522.40,377.20" fill="#6fb6a2"/>
<text x="541.20" y="374.60" font-size="10.0" text-anchor="middle" fill="#111" >4×P1BS</text>
<polygon points="568.20,365.20 599.50,365.20 599.50,358.70 610.00,371.20 599.50,383.70 599.50,377.20 568.20,377.20" fill="#e9a67b"/>
<text x="587.00" y="374.60" font-size="10.0" text-anchor="middle" fill="#111" >Mini35S</text>
<rect x="615.50" y="364.45" width="29.20" height="13.50" fill="#c9e14c"/>
<text x="630.10" y="374.70" font-size="10.2" text-anchor="middle" fill="#111" >LUC</text>
<rect x="649.10" y="364.45" width="26.90" height="13.50" fill="#b5c7e8"/>
<text x="661.55" y="374.70" font-size="10.2" text-anchor="middle" fill="#111" >Ter</text>
<rect x="65.60" y="517.90" width="8.90" height="1.60" fill="#f0eca0" stroke="#3a3a3a" stroke-width="0.6"/>
<rect x="80.20" y="498.60" width="8.70" height="20.90" fill="#a8e3ec" stroke="#3a3a3a" stroke-width="0.6"/>
<rect x="94.60" y="457.50" width="8.90" height="62.00" fill="#6e9fd6" stroke="#3a3a3a" stroke-width="0.6"/>
<rect x="109.10" y="509.30" width="8.90" height="10.20" fill="#4a2590" stroke="#3a3a3a" stroke-width="0.6"/>
<rect x="123.70" y="478.80" width="8.70" height="40.70" fill="#5fc9a0" stroke="#3a3a3a" stroke-width="0.6"/>
<rect x="138.30" y="511.20" width="8.70" height="8.30" fill="#7768b8" stroke="#3a3a3a" stroke-width="0.6"/>
<line x1="60.20" y1="395.60" x2="60.20" y2="520.00" stroke="#1a1a1a" stroke-width="1.0" />
<line x1="59.70" y1="519.50" x2="152.80" y2="519.50" stroke="#1a1a1a" stroke-width="1.0" />
<line x1="56.70" y1="396.10" x2="60.20" y2="396.10" stroke="#1a1a1a" stroke-width="1.0" />
<text x="54.90" y="399.50" font-size="9.8" text-anchor="end" fill="#111" >0.12</text>
<line x1="56.70" y1="437.20" x2="60.20" y2="437.20" stroke="#1a1a1a" stroke-width="1.0" />
<text x="54.90" y="440.60" font-size="9.8" text-anchor="end" fill="#111" >0.08</text>
<line x1="56.70" y1="478.50" x2="60.20" y2="478.50" stroke="#1a1a1a" stroke-width="1.0" />
<text x="54.90" y="481.90" font-size="9.8" text-anchor="end" fill="#111" >0.04</text>
<line x1="56.70" y1="519.50" x2="60.20" y2="519.50" stroke="#1a1a1a" stroke-width="1.0" />
<text x="54.90" y="522.90" font-size="9.8" text-anchor="end" fill="#111" >0</text>
<line x1="70.05" y1="519.50" x2="70.05" y2="523.30" stroke="#1a1a1a" stroke-width="1.0" />
<line x1="84.55" y1="519.50" x2="84.55" y2="523.30" stroke="#1a1a1a" stroke-width="1.0" />
<line x1="99.05" y1="519.50" x2="99.05" y2="523.30" stroke="#1a1a1a" stroke-width="1.0" />
<line x1="113.55" y1="519.50" x2="113.55" y2="523.30" stroke="#1a1a1a" stroke-width="1.0" />
<line x1="128.05" y1="519.50" x2="128.05" y2="523.30" stroke="#1a1a1a" stroke-width="1.0" />
<line x1="142.65" y1="519.50" x2="142.65" y2="523.30" stroke="#1a1a1a" stroke-width="1.0" />
<line x1="84.55" y1="493.70" x2="84.55" y2="503.00" stroke="#000" stroke-width="0.8" />
<line x1="82.45" y1="493.70" x2="86.65" y2="493.70" stroke="#000" stroke-width="0.8" />
<line x1="82.45" y1="503.00" x2="86.65" y2="503.00" stroke="#000" stroke-width="0.8" />
<line x1="99.05" y1="445.70" x2="99.05" y2="468.60" stroke="#000" stroke-width="0.8" />
<line x1="96.95" y1="445.70" x2="101.15" y2="445.70" stroke="#000" stroke-width="0.8" />
<line x1="96.95" y1="468.60" x2="101.15" y2="468.60" stroke="#000" stroke-width="0.8" />
<line x1="113.55" y1="506.00" x2="113.55" y2="511.90" stroke="#000" stroke-width="0.8" />
<line x1="111.45" y1="506.00" x2="115.65" y2="506.00" stroke="#000" stroke-width="0.8" />
<line x1="111.45" y1="511.90" x2="115.65" y2="511.90" stroke="#000" stroke-width="0.8" />
<line x1="128.05" y1="463.30" x2="128.05" y2="493.30" stroke="#000" stroke-width="0.8" />
<line x1="125.95" y1="463.30" x2="130.15" y2="463.30" stroke="#000" stroke-width="0.8" />
<line x1="125.95" y1="493.30" x2="130.15" y2="493.30" stroke="#000" stroke-width="0.8" />
<line x1="142.65" y1="506.00" x2="142.65" y2="515.50" stroke="#000" stroke-width="0.8" />
<line x1="140.55" y1="506.00" x2="144.75" y2="506.00" stroke="#000" stroke-width="0.8" />
<line x1="140.55" y1="515.50" x2="144.75" y2="515.50" stroke="#000" stroke-width="0.8" />
<circle cx="66.35" cy="517.40" r="1.15" fill="#000"/>
<circle cx="68.25" cy="517.40" r="1.15" fill="#000"/>
<circle cx="70.25" cy="517.40" r="1.15" fill="#000"/>
<circle cx="72.25" cy="517.40" r="1.15" fill="#000"/>
<circle cx="73.85" cy="517.40" r="1.15" fill="#000"/>
<circle cx="81.15" cy="494.30" r="1.15" fill="#000"/>
<circle cx="87.95" cy="493.70" r="1.15" fill="#000"/>
<circle cx="84.55" cy="498.90" r="1.15" fill="#000"/>
<circle cx="81.55" cy="500.30" r="1.15" fill="#000"/>
<circle cx="87.55" cy="501.40" r="1.15" fill="#000"/>
<circle cx="84.55" cy="503.00" r="1.15" fill="#000"/>
<circle cx="99.05" cy="440.60" r="1.15" fill="#000"/>
<circle cx="99.05" cy="454.80" r="1.15" fill="#000"/>
<circle cx="99.05" cy="458.40" r="1.15" fill="#000"/>
<circle cx="99.05" cy="464.00" r="1.15" fill="#000"/>
<circle cx="99.05" cy="468.00" r="1.15" fill="#000"/>
<circle cx="99.05" cy="470.60" r="1.15" fill="#000"/>
<circle cx="113.55" cy="505.00" r="1.15" fill="#000"/>
<circle cx="113.55" cy="508.40" r="1.15" fill="#000"/>
<circle cx="111.15" cy="509.50" r="1.15" fill="#000"/>
<circle cx="115.95" cy="510.10" r="1.15" fill="#000"/>
<circle cx="113.55" cy="510.70" r="1.15" fill="#000"/>
<circle cx="109.65" cy="511.50" r="1.15" fill="#000"/>
<circle cx="128.05" cy="456.20" r="1.15" fill="#000"/>
<circle cx="128.05" cy="463.30" r="1.15" fill="#000"/>
<circle cx="128.05" cy="479.10" r="1.15" fill="#000"/>
<circle cx="128.05" cy="485.80" r="1.15" fill="#000"/>
<circle cx="128.05" cy="491.20" r="1.15" fill="#000"/>
<circle cx="128.05" cy="493.90" r="1.15" fill="#000"/>
<circle cx="142.65" cy="503.40" r="1.15" fill="#000"/>
<circle cx="142.65" cy="509.50" r="1.15" fill="#000"/>
<circle cx="140.25" cy="510.50" r="1.15" fill="#000"/>
<circle cx="145.05" cy="511.50" r="1.15" fill="#000"/>
<circle cx="142.65" cy="515.10" r="1.15" fill="#000"/>
<circle cx="142.65" cy="518.00" r="1.15" fill="#000"/>
<text x="70.00" y="512.50" font-size="9.8" text-anchor="middle" fill="#111" >a</text>
<text x="83.90" y="488.60" font-size="9.8" text-anchor="middle" fill="#111" >b</text>
<text x="98.90" y="432.90" font-size="9.8" text-anchor="middle" fill="#111" >d</text>
<text x="113.30" y="499.70" font-size="9.8" text-anchor="middle" fill="#111" >ab</text>
<text x="128.50" y="450.80" font-size="9.8" text-anchor="middle" fill="#111" >c</text>
<text x="142.80" y="498.90" font-size="9.8" text-anchor="middle" fill="#111" >ab</text>
<text x="70.05" y="532.10" font-size="10.0" text-anchor="middle" fill="#111" >M1</text>
<text x="84.55" y="532.10" font-size="10.0" text-anchor="middle" fill="#111" >M2</text>
<text x="99.05" y="532.10" font-size="10.0" text-anchor="middle" fill="#111" >M3</text>
<text x="113.55" y="532.10" font-size="10.0" text-anchor="middle" fill="#111" >M4</text>
<text x="128.05" y="532.10" font-size="10.0" text-anchor="middle" fill="#111" >M5</text>
<text x="142.65" y="532.10" font-size="10.0" text-anchor="middle" fill="#111" >M6</text>
<text x="30.40" y="459.60" font-size="9.8" text-anchor="middle" transform="rotate(-90 30.40 459.60)" fill="#111" >LUC/REN</text>
<rect x="214.60" y="516.80" width="8.90" height="1.20" fill="#f0eca0" stroke="#3a3a3a" stroke-width="0.6"/>
<rect x="228.80" y="516.80" width="8.90" height="1.20" fill="#e9df56" stroke="#3a3a3a" stroke-width="0.6"/>
<rect x="243.50" y="494.60" width="9.00" height="23.40" fill="#a8e3ec" stroke="#3a3a3a" stroke-width="0.6"/>
<rect x="258.10" y="449.60" width="8.90" height="68.40" fill="#6e9fd6" stroke="#3a3a3a" stroke-width="0.6"/>
<rect x="272.70" y="511.80" width="8.70" height="6.20" fill="#c882c8" stroke="#3a3a3a" stroke-width="0.6"/>
<rect x="287.10" y="498.60" width="8.90" height="19.40" fill="#f6c9d2" stroke="#3a3a3a" stroke-width="0.6"/>
<line x1="209.20" y1="394.60" x2="209.20" y2="518.50" stroke="#1a1a1a" stroke-width="1.0" />
<line x1="208.70" y1="518.00" x2="301.90" y2="518.00" stroke="#1a1a1a" stroke-width="1.0" />
<line x1="205.70" y1="395.10" x2="209.20" y2="395.10" stroke="#1a1a1a" stroke-width="1.0" />
<text x="203.90" y="398.50" font-size="9.8" text-anchor="end" fill="#111" >0.09</text>
<line x1="205.70" y1="436.20" x2="209.20" y2="436.20" stroke="#1a1a1a" stroke-width="1.0" />
<text x="203.90" y="439.60" font-size="9.8" text-anchor="end" fill="#111" >0.06</text>
<line x1="205.70" y1="477.10" x2="209.20" y2="477.10" stroke="#1a1a1a" stroke-width="1.0" />
<text x="203.90" y="480.50" font-size="9.8" text-anchor="end" fill="#111" >0.03</text>
<line x1="205.70" y1="518.00" x2="209.20" y2="518.00" stroke="#1a1a1a" stroke-width="1.0" />
<text x="203.90" y="521.40" font-size="9.8" text-anchor="end" fill="#111" >0</text>
<line x1="219.05" y1="518.00" x2="219.05" y2="521.80" stroke="#1a1a1a" stroke-width="1.0" />
<line x1="233.25" y1="518.00" x2="233.25" y2="521.80" stroke="#1a1a1a" stroke-width="1.0" />
<line x1="248.00" y1="518.00" x2="248.00" y2="521.80" stroke="#1a1a1a" stroke-width="1.0" />
<line x1="262.55" y1="518.00" x2="262.55" y2="521.80" stroke="#1a1a1a" stroke-width="1.0" />
<line x1="277.05" y1="518.00" x2="277.05" y2="521.80" stroke="#1a1a1a" stroke-width="1.0" />
<line x1="291.55" y1="518.00" x2="291.55" y2="521.80" stroke="#1a1a1a" stroke-width="1.0" />
<line x1="248.00" y1="488.20" x2="248.00" y2="498.90" stroke="#000" stroke-width="0.8" />
<line x1="245.90" y1="488.20" x2="250.10" y2="488.20" stroke="#000" stroke-width="0.8" />
<line x1="245.90" y1="498.90" x2="250.10" y2="498.90" stroke="#000" stroke-width="0.8" />
<line x1="262.55" y1="433.50" x2="262.55" y2="465.30" stroke="#000" stroke-width="0.8" />
<line x1="260.45" y1="433.50" x2="264.65" y2="433.50" stroke="#000" stroke-width="0.8" />
<line x1="260.45" y1="465.30" x2="264.65" y2="465.30" stroke="#000" stroke-width="0.8" />
<line x1="277.05" y1="509.00" x2="277.05" y2="513.10" stroke="#000" stroke-width="0.8" />
<line x1="274.95" y1="509.00" x2="279.15" y2="509.00" stroke="#000" stroke-width="0.8" />
<line x1="274.95" y1="513.10" x2="279.15" y2="513.10" stroke="#000" stroke-width="0.8" />
<line x1="291.55" y1="489.20" x2="291.55" y2="506.40" stroke="#000" stroke-width="0.8" />
<line x1="289.45" y1="489.20" x2="293.65" y2="489.20" stroke="#000" stroke-width="0.8" />
<line x1="289.45" y1="506.40" x2="293.65" y2="506.40" stroke="#000" stroke-width="0.8" />
<circle cx="215.35" cy="516.20" r="1.15" fill="#000"/>
<circle cx="217.25" cy="516.20" r="1.15" fill="#000"/>
<circle cx="219.25" cy="516.20" r="1.15" fill="#000"/>
<circle cx="221.25" cy="516.20" r="1.15" fill="#000"/>
<circle cx="222.85" cy="516.20" r="1.15" fill="#000"/>
<circle cx="229.55" cy="516.20" r="1.15" fill="#000"/>
<circle cx="231.45" cy="516.20" r="1.15" fill="#000"/>
<circle cx="233.45" cy="516.20" r="1.15" fill="#000"/>
<circle cx="235.45" cy="516.20" r="1.15" fill="#000"/>
<circle cx="237.05" cy="516.20" r="1.15" fill="#000"/>
<circle cx="248.00" cy="487.60" r="1.15" fill="#000"/>
<circle cx="245.60" cy="489.20" r="1.15" fill="#000"/>
<circle cx="248.00" cy="494.30" r="1.15" fill="#000"/>
<circle cx="245.60" cy="496.30" r="1.15" fill="#000"/>
<circle cx="248.00" cy="498.30" r="1.15" fill="#000"/>
<circle cx="248.00" cy="503.00" r="1.15" fill="#000"/>
<circle cx="262.55" cy="432.90" r="1.15" fill="#000"/>
<circle cx="260.15" cy="433.50" r="1.15" fill="#000"/>
<circle cx="262.55" cy="444.30" r="1.15" fill="#000"/>
<circle cx="262.55" cy="454.80" r="1.15" fill="#000"/>
<circle cx="260.15" cy="455.80" r="1.15" fill="#000"/>
<circle cx="262.55" cy="474.40" r="1.15" fill="#000"/>
<circle cx="277.05" cy="509.00" r="1.15" fill="#000"/>
<circle cx="274.65" cy="510.10" r="1.15" fill="#000"/>
<circle cx="279.45" cy="510.90" r="1.15" fill="#000"/>
<circle cx="277.05" cy="511.50" r="1.15" fill="#000"/>
<circle cx="273.15" cy="511.90" r="1.15" fill="#000"/>
<circle cx="278.25" cy="512.50" r="1.15" fill="#000"/>
<circle cx="291.55" cy="486.60" r="1.15" fill="#000"/>
<circle cx="289.15" cy="488.60" r="1.15" fill="#000"/>
<circle cx="291.55" cy="504.00" r="1.15" fill="#000"/>
<circle cx="289.15" cy="505.00" r="1.15" fill="#000"/>
<circle cx="293.95" cy="505.40" r="1.15" fill="#000"/>
<circle cx="292.75" cy="506.00" r="1.15" fill="#000"/>
<text x="218.90" y="511.10" font-size="9.8" text-anchor="middle" fill="#111" >a</text>
<text x="232.90" y="510.50" font-size="9.8" text-anchor="middle" fill="#111" >a</text>
<text x="247.70" y="482.70" font-size="9.8" text-anchor="middle" fill="#111" >b</text>
<text x="262.30" y="425.40" font-size="9.8" text-anchor="middle" fill="#111" >c</text>
<text x="276.60" y="503.40" font-size="9.8" text-anchor="middle" fill="#111" >a</text>
<text x="291.20" y="482.10" font-size="9.8" text-anchor="middle" fill="#111" >b</text>
<text x="219.05" y="530.60" font-size="10.0" text-anchor="middle" fill="#111" >N1</text>
<text x="233.25" y="530.60" font-size="10.0" text-anchor="middle" fill="#111" >N2</text>
<text x="248.00" y="530.60" font-size="10.0" text-anchor="middle" fill="#111" >N3</text>
<text x="262.55" y="530.60" font-size="10.0" text-anchor="middle" fill="#111" >N4</text>
<text x="277.05" y="530.60" font-size="10.0" text-anchor="middle" fill="#111" >N5</text>
<text x="291.55" y="530.60" font-size="10.0" text-anchor="middle" fill="#111" >N6</text>
<text x="173.60" y="460.50" font-size="9.8" text-anchor="middle" transform="rotate(-90 173.60 460.50)" fill="#111" >LUC/REN</text>
<rect x="432.00" y="491.50" width="8.70" height="26.50" fill="#f0eca0" stroke="#3a3a3a" stroke-width="0.6"/>
<rect x="446.60" y="447.40" width="8.70" height="70.60" fill="#a8e3ec" stroke="#3a3a3a" stroke-width="0.6"/>
<rect x="461.00" y="425.70" width="8.90" height="92.30" fill="#6e9fd6" stroke="#3a3a3a" stroke-width="0.6"/>
<rect x="475.50" y="473.30" width="9.00" height="44.70" fill="#4a2590" stroke="#3a3a3a" stroke-width="0.6"/>
<rect x="489.90" y="443.40" width="8.90" height="74.60" fill="#5fc9a0" stroke="#3a3a3a" stroke-width="0.6"/>
<rect x="504.50" y="473.90" width="8.90" height="44.10" fill="#7768b8" stroke="#3a3a3a" stroke-width="0.6"/>
<line x1="426.30" y1="395.00" x2="426.30" y2="518.50" stroke="#1a1a1a" stroke-width="1.0" />
<line x1="425.80" y1="518.00" x2="520.00" y2="518.00" stroke="#1a1a1a" stroke-width="1.0" />
<line x1="422.80" y1="395.50" x2="426.30" y2="395.50" stroke="#1a1a1a" stroke-width="1.0" />
<text x="421.00" y="398.90" font-size="9.8" text-anchor="end" fill="#111" >3</text>
<line x1="422.80" y1="436.60" x2="426.30" y2="436.60" stroke="#1a1a1a" stroke-width="1.0" />
<text x="421.00" y="440.00" font-size="9.8" text-anchor="end" fill="#111" >2</text>
<line x1="422.80" y1="477.50" x2="426.30" y2="477.50" stroke="#1a1a1a" stroke-width="1.0" />
<text x="421.00" y="480.90" font-size="9.8" text-anchor="end" fill="#111" >1</text>
<line x1="422.80" y1="518.00" x2="426.30" y2="518.00" stroke="#1a1a1a" stroke-width="1.0" />
<text x="421.00" y="521.40" font-size="9.8" text-anchor="end" fill="#111" >0</text>
<line x1="436.35" y1="518.00" x2="436.35" y2="521.80" stroke="#1a1a1a" stroke-width="1.0" />
<line x1="450.95" y1="518.00" x2="450.95" y2="521.80" stroke="#1a1a1a" stroke-width="1.0" />
<line x1="465.45" y1="518.00" x2="465.45" y2="521.80" stroke="#1a1a1a" stroke-width="1.0" />
<line x1="480.00" y1="518.00" x2="480.00" y2="521.80" stroke="#1a1a1a" stroke-width="1.0" />
<line x1="494.35" y1="518.00" x2="494.35" y2="521.80" stroke="#1a1a1a" stroke-width="1.0" />
<line x1="508.95" y1="518.00" x2="508.95" y2="521.80" stroke="#1a1a1a" stroke-width="1.0" />
<line x1="436.35" y1="485.20" x2="436.35" y2="497.30" stroke="#000" stroke-width="0.8" />
<line x1="434.25" y1="485.20" x2="438.45" y2="485.20" stroke="#000" stroke-width="0.8" />
<line x1="434.25" y1="497.30" x2="438.45" y2="497.30" stroke="#000" stroke-width="0.8" />
<line x1="450.95" y1="432.10" x2="450.95" y2="459.90" stroke="#000" stroke-width="0.8" />
<line x1="448.85" y1="432.10" x2="453.05" y2="432.10" stroke="#000" stroke-width="0.8" />
<line x1="448.85" y1="459.90" x2="453.05" y2="459.90" stroke="#000" stroke-width="0.8" />
<line x1="465.45" y1="414.30" x2="465.45" y2="436.60" stroke="#000" stroke-width="0.8" />
<line x1="463.35" y1="414.30" x2="467.55" y2="414.30" stroke="#000" stroke-width="0.8" />
<line x1="463.35" y1="436.60" x2="467.55" y2="436.60" stroke="#000" stroke-width="0.8" />
<line x1="480.00" y1="462.50" x2="480.00" y2="483.10" stroke="#000" stroke-width="0.8" />
<line x1="477.90" y1="462.50" x2="482.10" y2="462.50" stroke="#000" stroke-width="0.8" />
<line x1="477.90" y1="483.10" x2="482.10" y2="483.10" stroke="#000" stroke-width="0.8" />
<line x1="494.35" y1="429.50" x2="494.35" y2="456.40" stroke="#000" stroke-width="0.8" />
<line x1="492.25" y1="429.50" x2="496.45" y2="429.50" stroke="#000" stroke-width="0.8" />
<line x1="492.25" y1="456.40" x2="496.45" y2="456.40" stroke="#000" stroke-width="0.8" />
<line x1="508.95" y1="463.30" x2="508.95" y2="483.50" stroke="#000" stroke-width="0.8" />
<line x1="506.85" y1="463.30" x2="511.05" y2="463.30" stroke="#000" stroke-width="0.8" />
<line x1="506.85" y1="483.50" x2="511.05" y2="483.50" stroke="#000" stroke-width="0.8" />
<circle cx="436.35" cy="484.20" r="1.15" fill="#000"/>
<circle cx="433.95" cy="485.20" r="1.15" fill="#000"/>
<circle cx="436.35" cy="491.20" r="1.15" fill="#000"/>
<circle cx="433.95" cy="493.30" r="1.15" fill="#000"/>
<circle cx="436.35" cy="495.30" r="1.15" fill="#000"/>
<circle cx="436.35" cy="498.30" r="1.15" fill="#000"/>
<circle cx="450.95" cy="428.50" r="1.15" fill="#000"/>
<circle cx="450.95" cy="434.60" r="1.15" fill="#000"/>
<circle cx="450.95" cy="440.60" r="1.15" fill="#000"/>
<circle cx="450.95" cy="456.80" r="1.15" fill="#000"/>
<circle cx="448.55" cy="457.80" r="1.15" fill="#000"/>
<circle cx="450.95" cy="463.30" r="1.15" fill="#000"/>
<circle cx="465.45" cy="411.30" r="1.15" fill="#000"/>
<circle cx="465.45" cy="417.40" r="1.15" fill="#000"/>
<circle cx="463.05" cy="418.40" r="1.15" fill="#000"/>
<circle cx="465.45" cy="433.50" r="1.15" fill="#000"/>
<circle cx="463.05" cy="435.60" r="1.15" fill="#000"/>
<circle cx="465.45" cy="440.20" r="1.15" fill="#000"/>
<circle cx="480.00" cy="458.90" r="1.15" fill="#000"/>
<circle cx="477.60" cy="459.50" r="1.15" fill="#000"/>
<circle cx="480.00" cy="477.10" r="1.15" fill="#000"/>
<circle cx="477.60" cy="479.10" r="1.15" fill="#000"/>
<circle cx="480.00" cy="481.10" r="1.15" fill="#000"/>
<circle cx="477.60" cy="482.10" r="1.15" fill="#000"/>
<circle cx="494.35" cy="424.40" r="1.15" fill="#000"/>
<circle cx="491.95" cy="425.00" r="1.15" fill="#000"/>
<circle cx="494.35" cy="446.70" r="1.15" fill="#000"/>
<circle cx="491.95" cy="448.70" r="1.15" fill="#000"/>
<circle cx="494.35" cy="452.80" r="1.15" fill="#000"/>
<circle cx="494.35" cy="455.40" r="1.15" fill="#000"/>
<circle cx="508.95" cy="457.80" r="1.15" fill="#000"/>
<circle cx="508.95" cy="464.90" r="1.15" fill="#000"/>
<circle cx="508.95" cy="475.00" r="1.15" fill="#000"/>
<circle cx="506.55" cy="477.10" r="1.15" fill="#000"/>
<circle cx="508.95" cy="482.10" r="1.15" fill="#000"/>
<circle cx="506.55" cy="484.20" r="1.15" fill="#000"/>
<text x="436.80" y="475.00" font-size="9.8" text-anchor="middle" fill="#111" >a</text>
<text x="450.50" y="422.00" font-size="9.8" text-anchor="middle" fill="#111" >b</text>
<text x="465.10" y="401.20" font-size="9.8" text-anchor="middle" fill="#111" >c</text>
<text x="479.50" y="454.80" font-size="9.8" text-anchor="middle" fill="#111" >a</text>
<text x="494.50" y="417.40" font-size="9.8" text-anchor="middle" fill="#111" >b</text>
<text x="508.60" y="453.80" font-size="9.8" text-anchor="middle" fill="#111" >a</text>
<text x="436.35" y="530.60" font-size="10.0" text-anchor="middle" fill="#111" >M1</text>
<text x="450.95" y="530.60" font-size="10.0" text-anchor="middle" fill="#111" >M2</text>
<text x="465.45" y="530.60" font-size="10.0" text-anchor="middle" fill="#111" >M3</text>
<text x="480.00" y="530.60" font-size="10.0" text-anchor="middle" fill="#111" >M4</text>
<text x="494.35" y="530.60" font-size="10.0" text-anchor="middle" fill="#111" >M5</text>
<text x="508.95" y="530.60" font-size="10.0" text-anchor="middle" fill="#111" >M6</text>
<text x="405.60" y="455.80" font-size="9.8" text-anchor="middle" transform="rotate(-90 405.60 455.80)" fill="#111" >LUC/REN</text>
<rect x="583.60" y="493.60" width="8.90" height="24.40" fill="#f0eca0" stroke="#3a3a3a" stroke-width="0.6"/>
<rect x="598.40" y="490.90" width="8.90" height="27.10" fill="#e9df56" stroke="#3a3a3a" stroke-width="0.6"/>
<rect x="612.90" y="464.80" width="8.90" height="53.20" fill="#a8e3ec" stroke="#3a3a3a" stroke-width="0.6"/>
<rect x="627.50" y="444.00" width="8.70" height="74.00" fill="#6e9fd6" stroke="#3a3a3a" stroke-width="0.6"/>
<rect x="641.90" y="484.50" width="8.90" height="33.50" fill="#c882c8" stroke="#3a3a3a" stroke-width="0.6"/>
<rect x="656.50" y="452.70" width="8.90" height="65.30" fill="#f6c9d2" stroke="#3a3a3a" stroke-width="0.6"/>
<line x1="578.60" y1="395.00" x2="578.60" y2="518.50" stroke="#1a1a1a" stroke-width="1.0" />
<line x1="578.10" y1="518.00" x2="670.90" y2="518.00" stroke="#1a1a1a" stroke-width="1.0" />
<line x1="575.10" y1="395.50" x2="578.60" y2="395.50" stroke="#1a1a1a" stroke-width="1.0" />
<text x="573.30" y="398.90" font-size="9.8" text-anchor="end" fill="#111" >5</text>
<line x1="575.10" y1="420.00" x2="578.60" y2="420.00" stroke="#1a1a1a" stroke-width="1.0" />
<text x="573.30" y="423.40" font-size="9.8" text-anchor="end" fill="#111" >4</text>
<line x1="575.10" y1="444.30" x2="578.60" y2="444.30" stroke="#1a1a1a" stroke-width="1.0" />
<text x="573.30" y="447.70" font-size="9.8" text-anchor="end" fill="#111" >3</text>
<line x1="575.10" y1="469.00" x2="578.60" y2="469.00" stroke="#1a1a1a" stroke-width="1.0" />
<text x="573.30" y="472.40" font-size="9.8" text-anchor="end" fill="#111" >2</text>
<line x1="575.10" y1="493.30" x2="578.60" y2="493.30" stroke="#1a1a1a" stroke-width="1.0" />
<text x="573.30" y="496.70" font-size="9.8" text-anchor="end" fill="#111" >1</text>
<line x1="575.10" y1="518.00" x2="578.60" y2="518.00" stroke="#1a1a1a" stroke-width="1.0" />
<text x="573.30" y="521.40" font-size="9.8" text-anchor="end" fill="#111" >0</text>
<line x1="588.05" y1="518.00" x2="588.05" y2="521.80" stroke="#1a1a1a" stroke-width="1.0" />
<line x1="602.85" y1="518.00" x2="602.85" y2="521.80" stroke="#1a1a1a" stroke-width="1.0" />
<line x1="617.35" y1="518.00" x2="617.35" y2="521.80" stroke="#1a1a1a" stroke-width="1.0" />
<line x1="631.85" y1="518.00" x2="631.85" y2="521.80" stroke="#1a1a1a" stroke-width="1.0" />
<line x1="646.35" y1="518.00" x2="646.35" y2="521.80" stroke="#1a1a1a" stroke-width="1.0" />
<line x1="660.95" y1="518.00" x2="660.95" y2="521.80" stroke="#1a1a1a" stroke-width="1.0" />
<line x1="588.05" y1="490.20" x2="588.05" y2="495.90" stroke="#000" stroke-width="0.8" />
<line x1="585.95" y1="490.20" x2="590.15" y2="490.20" stroke="#000" stroke-width="0.8" />
<line x1="585.95" y1="495.90" x2="590.15" y2="495.90" stroke="#000" stroke-width="0.8" />
<line x1="602.85" y1="486.20" x2="602.85" y2="495.90" stroke="#000" stroke-width="0.8" />
<line x1="600.75" y1="486.20" x2="604.95" y2="486.20" stroke="#000" stroke-width="0.8" />
<line x1="600.75" y1="495.90" x2="604.95" y2="495.90" stroke="#000" stroke-width="0.8" />
<line x1="617.35" y1="460.50" x2="617.35" y2="468.60" stroke="#000" stroke-width="0.8" />
<line x1="615.25" y1="460.50" x2="619.45" y2="460.50" stroke="#000" stroke-width="0.8" />
<line x1="615.25" y1="468.60" x2="619.45" y2="468.60" stroke="#000" stroke-width="0.8" />
<line x1="631.85" y1="431.10" x2="631.85" y2="455.80" stroke="#000" stroke-width="0.8" />
<line x1="629.75" y1="431.10" x2="633.95" y2="431.10" stroke="#000" stroke-width="0.8" />
<line x1="629.75" y1="455.80" x2="633.95" y2="455.80" stroke="#000" stroke-width="0.8" />
<line x1="646.35" y1="481.50" x2="646.35" y2="487.20" stroke="#000" stroke-width="0.8" />
<line x1="644.25" y1="481.50" x2="648.45" y2="481.50" stroke="#000" stroke-width="0.8" />
<line x1="644.25" y1="487.20" x2="648.45" y2="487.20" stroke="#000" stroke-width="0.8" />
<line x1="660.95" y1="444.70" x2="660.95" y2="459.90" stroke="#000" stroke-width="0.8" />
<line x1="658.85" y1="444.70" x2="663.05" y2="444.70" stroke="#000" stroke-width="0.8" />
<line x1="658.85" y1="459.90" x2="663.05" y2="459.90" stroke="#000" stroke-width="0.8" />
<circle cx="588.05" cy="487.60" r="1.15" fill="#000"/>
<circle cx="588.05" cy="491.20" r="1.15" fill="#000"/>
<circle cx="585.65" cy="493.30" r="1.15" fill="#000"/>
<circle cx="588.05" cy="494.30" r="1.15" fill="#000"/>
<circle cx="590.45" cy="494.90" r="1.15" fill="#000"/>
<circle cx="584.15" cy="495.30" r="1.15" fill="#000"/>
<circle cx="602.85" cy="481.10" r="1.15" fill="#000"/>
<circle cx="602.85" cy="485.20" r="1.15" fill="#000"/>
<circle cx="602.85" cy="490.20" r="1.15" fill="#000"/>
<circle cx="600.45" cy="492.30" r="1.15" fill="#000"/>
<circle cx="602.85" cy="495.30" r="1.15" fill="#000"/>
<circle cx="602.85" cy="502.40" r="1.15" fill="#000"/>
<circle cx="617.35" cy="456.80" r="1.15" fill="#000"/>
<circle cx="617.35" cy="462.90" r="1.15" fill="#000"/>
<circle cx="614.95" cy="464.50" r="1.15" fill="#000"/>
<circle cx="617.35" cy="465.90" r="1.15" fill="#000"/>
<circle cx="614.95" cy="466.90" r="1.15" fill="#000"/>
<circle cx="619.75" cy="468.00" r="1.15" fill="#000"/>
<circle cx="631.85" cy="422.40" r="1.15" fill="#000"/>
<circle cx="631.85" cy="437.60" r="1.15" fill="#000"/>
<circle cx="631.85" cy="452.80" r="1.15" fill="#000"/>
<circle cx="629.45" cy="453.80" r="1.15" fill="#000"/>
<circle cx="631.85" cy="456.80" r="1.15" fill="#000"/>
<circle cx="629.45" cy="457.80" r="1.15" fill="#000"/>
<circle cx="646.35" cy="481.10" r="1.15" fill="#000"/>
<circle cx="643.95" cy="482.10" r="1.15" fill="#000"/>
<circle cx="648.75" cy="483.10" r="1.15" fill="#000"/>
<circle cx="646.35" cy="484.20" r="1.15" fill="#000"/>
<circle cx="643.95" cy="486.20" r="1.15" fill="#000"/>
<circle cx="646.35" cy="490.20" r="1.15" fill="#000"/>
<circle cx="660.95" cy="445.70" r="1.15" fill="#000"/>
<circle cx="658.55" cy="446.70" r="1.15" fill="#000"/>
<circle cx="663.35" cy="447.30" r="1.15" fill="#000"/>
<circle cx="660.95" cy="455.80" r="1.15" fill="#000"/>
<circle cx="660.95" cy="462.90" r="1.15" fill="#000"/>
<circle cx="658.55" cy="463.50" r="1.15" fill="#000"/>
<text x="588.90" y="478.70" font-size="9.8" text-anchor="middle" fill="#111" >a</text>
<text x="603.10" y="474.00" font-size="9.8" text-anchor="middle" fill="#111" >a</text>
<text x="617.30" y="447.70" font-size="9.8" text-anchor="middle" fill="#111" >b</text>
<text x="631.30" y="415.30" font-size="9.8" text-anchor="middle" fill="#111" >c</text>
<text x="646.40" y="468.60" font-size="9.8" text-anchor="middle" fill="#111" >a</text>
<text x="660.80" y="438.20" font-size="9.8" text-anchor="middle" fill="#111" >bc</text>
<text x="588.05" y="530.60" font-size="10.0" text-anchor="middle" fill="#111" >N1</text>
<text x="602.85" y="530.60" font-size="10.0" text-anchor="middle" fill="#111" >N2</text>
<text x="617.35" y="530.60" font-size="10.0" text-anchor="middle" fill="#111" >N3</text>
<text x="631.85" y="530.60" font-size="10.0" text-anchor="middle" fill="#111" >N4</text>
<text x="646.35" y="530.60" font-size="10.0" text-anchor="middle" fill="#111" >N5</text>
<text x="660.95" y="530.60" font-size="10.0" text-anchor="middle" fill="#111" >N6</text>
<text x="556.60" y="455.90" font-size="9.8" text-anchor="middle" transform="rotate(-90 556.60 455.90)" fill="#111" >LUC/REN</text>
<text x="0.80" y="555.50" font-size="19" text-anchor="start" font-weight="bold" fill="#111" >d</text>
<rect x="57.90" y="664.20" width="9.50" height="1.10" fill="#ece383" stroke="#262626" stroke-width="0.8"/>
<rect x="74.40" y="627.00" width="10.00" height="38.30" fill="#a6e0d6" stroke="#262626" stroke-width="0.8"/>
<rect x="91.10" y="649.30" width="9.80" height="16.00" fill="#b4dc48" stroke="#262626" stroke-width="0.8"/>
<rect x="107.90" y="605.60" width="9.60" height="59.70" fill="#6fa3db" stroke="#262626" stroke-width="0.8"/>
<line x1="51.50" y1="573.80" x2="51.50" y2="665.80" stroke="#1a1a1a" stroke-width="1.0" />
<line x1="51.00" y1="665.30" x2="124.30" y2="665.30" stroke="#1a1a1a" stroke-width="1.0" />
<line x1="46.60" y1="574.30" x2="51.50" y2="574.30" stroke="#1a1a1a" stroke-width="1.0" />
<text x="45.80" y="579.90" font-size="9.8" text-anchor="end" fill="#111" >0.3</text>
<line x1="46.60" y1="604.60" x2="51.50" y2="604.60" stroke="#1a1a1a" stroke-width="1.0" />
<text x="45.80" y="609.90" font-size="9.8" text-anchor="end" fill="#111" >0.2</text>
<line x1="46.60" y1="634.90" x2="51.50" y2="634.90" stroke="#1a1a1a" stroke-width="1.0" />
<text x="45.80" y="639.00" font-size="9.8" text-anchor="end" fill="#111" >0.1</text>
<line x1="46.60" y1="665.30" x2="51.50" y2="665.30" stroke="#1a1a1a" stroke-width="1.0" />
<text x="45.80" y="668.20" font-size="9.8" text-anchor="end" fill="#111" >0</text>
<line x1="62.65" y1="665.30" x2="62.65" y2="669.10" stroke="#1a1a1a" stroke-width="1.0" />
<line x1="79.40" y1="665.30" x2="79.40" y2="669.10" stroke="#1a1a1a" stroke-width="1.0" />
<line x1="96.00" y1="665.30" x2="96.00" y2="669.10" stroke="#1a1a1a" stroke-width="1.0" />
<line x1="112.70" y1="665.30" x2="112.70" y2="669.10" stroke="#1a1a1a" stroke-width="1.0" />
<line x1="79.40" y1="622.80" x2="79.40" y2="630.70" stroke="#000" stroke-width="0.8" />
<line x1="77.00" y1="622.80" x2="81.80" y2="622.80" stroke="#000" stroke-width="0.8" />
<line x1="77.00" y1="630.70" x2="81.80" y2="630.70" stroke="#000" stroke-width="0.8" />
<line x1="96.00" y1="642.60" x2="96.00" y2="654.70" stroke="#000" stroke-width="0.8" />
<line x1="93.60" y1="642.60" x2="98.40" y2="642.60" stroke="#000" stroke-width="0.8" />
<line x1="93.60" y1="654.70" x2="98.40" y2="654.70" stroke="#000" stroke-width="0.8" />
<line x1="112.70" y1="600.00" x2="112.70" y2="608.60" stroke="#000" stroke-width="0.8" />
<line x1="110.30" y1="600.00" x2="115.10" y2="600.00" stroke="#000" stroke-width="0.8" />
<line x1="110.30" y1="608.60" x2="115.10" y2="608.60" stroke="#000" stroke-width="0.8" />
<circle cx="58.90" cy="663.60" r="1.15" fill="#000"/>
<circle cx="62.60" cy="663.60" r="1.15" fill="#000"/>
<circle cx="66.20" cy="663.60" r="1.15" fill="#000"/>
<circle cx="77.60" cy="622.80" r="1.15" fill="#000"/>
<circle cx="80.80" cy="622.80" r="1.15" fill="#000"/>
<circle cx="79.40" cy="630.70" r="1.15" fill="#000"/>
<circle cx="96.00" cy="642.60" r="1.15" fill="#000"/>
<circle cx="96.00" cy="649.00" r="1.15" fill="#000"/>
<circle cx="96.00" cy="654.70" r="1.15" fill="#000"/>
<circle cx="112.70" cy="600.00" r="1.15" fill="#000"/>
<circle cx="112.70" cy="606.90" r="1.15" fill="#000"/>
<circle cx="112.70" cy="608.30" r="1.15" fill="#000"/>
<text x="65.95" y="675.90" font-size="10.0" text-anchor="end" transform="rotate(-45 65.95 675.90)" fill="#111" >Mock</text>
<text x="84.40" y="675.90" font-size="10.0" text-anchor="end" font-style="italic" transform="rotate(-45 84.40 675.90)" fill="#111" >TaPHR2-OE-2</text>
<text x="101.00" y="675.90" font-size="10.0" text-anchor="end" font-style="italic" transform="rotate(-45 101.00 675.90)" fill="#111" >TaPHR2-OE-4</text>
<text x="117.70" y="675.90" font-size="10.0" text-anchor="end" font-style="italic" transform="rotate(-45 117.70 675.90)" fill="#111" >TaPHR2-OE-5</text>
<text x="29.30" y="622.50" font-size="9.8" text-anchor="middle" font-style="italic" transform="rotate(-90 29.30 622.50)" fill="#111" >TaPHR2/ACT</text>
<line x1="63.60" y1="568.50" x2="109.70" y2="568.50" stroke="#2a2a2a" stroke-width="1.1" />
<text x="71.20" y="565.90" font-size="10" letter-spacing="-0.1" fill="#111"><tspan font-style="italic">P</tspan> &lt; 0.0001</text>
<line x1="63.60" y1="586.50" x2="93.70" y2="586.50" stroke="#2a2a2a" stroke-width="1.1" />
<text x="63.60" y="583.80" font-size="10" letter-spacing="-0.1" fill="#111"><tspan font-style="italic">P</tspan> = 0.0099</text>
<line x1="63.60" y1="604.50" x2="78.70" y2="604.50" stroke="#6e6e6e" stroke-width="1.2" />
<text x="58.80" y="602.00" font-size="10" letter-spacing="-0.1" fill="#111"><tspan font-style="italic">P</tspan> &lt; 0.0001</text>
<text x="128.60" y="555.90" font-size="19" text-anchor="start" font-weight="bold" fill="#111" >e</text>
<rect x="177.90" y="657.90" width="9.80" height="7.40" fill="#ece383" stroke="#262626" stroke-width="0.8"/>
<rect x="194.40" y="644.10" width="10.00" height="21.20" fill="#a6e0d6" stroke="#262626" stroke-width="0.8"/>
<rect x="211.10" y="649.00" width="9.90" height="16.30" fill="#b4dc48" stroke="#262626" stroke-width="0.8"/>
<rect x="227.90" y="603.70" width="10.00" height="61.60" fill="#6fa3db" stroke="#262626" stroke-width="0.8"/>
<line x1="171.50" y1="573.80" x2="171.50" y2="665.80" stroke="#1a1a1a" stroke-width="1.0" />
<line x1="171.00" y1="665.30" x2="245.40" y2="665.30" stroke="#1a1a1a" stroke-width="1.0" />
<line x1="166.30" y1="574.30" x2="171.50" y2="574.30" stroke="#1a1a1a" stroke-width="1.0" />
<text x="164.90" y="579.40" font-size="9.8" text-anchor="end" fill="#111" >4</text>
<line x1="166.30" y1="597.20" x2="171.50" y2="597.20" stroke="#1a1a1a" stroke-width="1.0" />
<text x="164.90" y="601.70" font-size="9.8" text-anchor="end" fill="#111" >3</text>
<line x1="166.30" y1="619.90" x2="171.50" y2="619.90" stroke="#1a1a1a" stroke-width="1.0" />
<text x="164.90" y="624.70" font-size="9.8" text-anchor="end" fill="#111" >2</text>
<line x1="166.30" y1="642.60" x2="171.50" y2="642.60" stroke="#1a1a1a" stroke-width="1.0" />
<text x="164.90" y="645.90" font-size="9.8" text-anchor="end" fill="#111" >1</text>
<line x1="166.30" y1="665.30" x2="171.50" y2="665.30" stroke="#1a1a1a" stroke-width="1.0" />
<text x="164.90" y="668.30" font-size="9.8" text-anchor="end" fill="#111" >0</text>
<line x1="182.80" y1="665.30" x2="182.80" y2="669.10" stroke="#1a1a1a" stroke-width="1.0" />
<line x1="199.40" y1="665.30" x2="199.40" y2="669.10" stroke="#1a1a1a" stroke-width="1.0" />
<line x1="216.05" y1="665.30" x2="216.05" y2="669.10" stroke="#1a1a1a" stroke-width="1.0" />
<line x1="232.90" y1="665.30" x2="232.90" y2="669.10" stroke="#1a1a1a" stroke-width="1.0" />
<line x1="182.80" y1="656.30" x2="182.80" y2="659.00" stroke="#000" stroke-width="0.8" />
<line x1="180.40" y1="656.30" x2="185.20" y2="656.30" stroke="#000" stroke-width="0.8" />
<line x1="180.40" y1="659.00" x2="185.20" y2="659.00" stroke="#000" stroke-width="0.8" />
<line x1="199.40" y1="640.40" x2="199.40" y2="646.90" stroke="#000" stroke-width="0.8" />
<line x1="197.00" y1="640.40" x2="201.80" y2="640.40" stroke="#000" stroke-width="0.8" />
<line x1="197.00" y1="646.90" x2="201.80" y2="646.90" stroke="#000" stroke-width="0.8" />
<line x1="216.05" y1="643.80" x2="216.05" y2="653.60" stroke="#000" stroke-width="0.8" />
<line x1="213.65" y1="643.80" x2="218.45" y2="643.80" stroke="#000" stroke-width="0.8" />
<line x1="213.65" y1="653.60" x2="218.45" y2="653.60" stroke="#000" stroke-width="0.8" />
<line x1="232.90" y1="598.80" x2="232.90" y2="608.60" stroke="#000" stroke-width="0.8" />
<line x1="230.50" y1="598.80" x2="235.30" y2="598.80" stroke="#000" stroke-width="0.8" />
<line x1="230.50" y1="608.60" x2="235.30" y2="608.60" stroke="#000" stroke-width="0.8" />
<circle cx="182.80" cy="655.90" r="1.15" fill="#000"/>
<circle cx="180.50" cy="656.50" r="1.15" fill="#000"/>
<circle cx="185.10" cy="656.80" r="1.15" fill="#000"/>
<circle cx="186.20" cy="657.00" r="1.15" fill="#000"/>
<circle cx="178.40" cy="657.20" r="1.15" fill="#000"/>
<circle cx="186.20" cy="657.40" r="1.15" fill="#000"/>
<circle cx="186.20" cy="657.80" r="1.15" fill="#000"/>
<circle cx="182.80" cy="658.20" r="1.15" fill="#000"/>
<circle cx="186.20" cy="658.60" r="1.15" fill="#000"/>
<circle cx="197.90" cy="638.60" r="1.15" fill="#000"/>
<circle cx="200.90" cy="638.60" r="1.15" fill="#000"/>
<circle cx="197.90" cy="641.00" r="1.15" fill="#000"/>
<circle cx="200.90" cy="641.00" r="1.15" fill="#000"/>
<circle cx="195.40" cy="645.50" r="1.15" fill="#000"/>
<circle cx="197.90" cy="645.20" r="1.15" fill="#000"/>
<circle cx="200.90" cy="645.40" r="1.15" fill="#000"/>
<circle cx="203.40" cy="645.50" r="1.15" fill="#000"/>
<circle cx="197.90" cy="647.80" r="1.15" fill="#000"/>
<circle cx="200.90" cy="647.60" r="1.15" fill="#000"/>
<circle cx="216.00" cy="641.00" r="1.15" fill="#000"/>
<circle cx="214.00" cy="645.00" r="1.15" fill="#000"/>
<circle cx="218.00" cy="646.00" r="1.15" fill="#000"/>
<circle cx="212.00" cy="650.00" r="1.15" fill="#000"/>
<circle cx="216.00" cy="650.00" r="1.15" fill="#000"/>
<circle cx="220.00" cy="650.00" r="1.15" fill="#000"/>
<circle cx="213.00" cy="653.50" r="1.15" fill="#000"/>
<circle cx="216.00" cy="653.50" r="1.15" fill="#000"/>
<circle cx="219.50" cy="653.00" r="1.15" fill="#000"/>
<circle cx="216.00" cy="647.80" r="1.15" fill="#000"/>
<circle cx="229.30" cy="598.60" r="1.15" fill="#000"/>
<circle cx="231.50" cy="598.20" r="1.15" fill="#000"/>
<circle cx="234.30" cy="598.40" r="1.15" fill="#000"/>
<circle cx="236.70" cy="599.80" r="1.15" fill="#000"/>
<circle cx="232.90" cy="601.60" r="1.15" fill="#000"/>
<circle cx="230.50" cy="603.60" r="1.15" fill="#000"/>
<circle cx="235.30" cy="604.20" r="1.15" fill="#000"/>
<circle cx="232.90" cy="606.60" r="1.15" fill="#000"/>
<circle cx="234.50" cy="609.20" r="1.15" fill="#000"/>
<circle cx="232.90" cy="611.20" r="1.15" fill="#000"/>
<text x="186.10" y="675.90" font-size="10.0" text-anchor="end" transform="rotate(-45 186.10 675.90)" fill="#111" >Mock</text>
<text x="204.40" y="675.90" font-size="10.0" text-anchor="end" font-style="italic" transform="rotate(-45 204.40 675.90)" fill="#111" >TaPHR2-OE-2</text>
<text x="221.05" y="675.90" font-size="10.0" text-anchor="end" font-style="italic" transform="rotate(-45 221.05 675.90)" fill="#111" >TaPHR2-OE-4</text>
<text x="237.90" y="675.90" font-size="10.0" text-anchor="end" font-style="italic" transform="rotate(-45 237.90 675.90)" fill="#111" >TaPHR2-OE-5</text>
<text x="146.60" y="622.70" font-size="9.8" text-anchor="middle" transform="rotate(-90 146.60 622.70)" fill="#111" >Pi content (mg/g)</text>
<line x1="183.10" y1="571.50" x2="229.30" y2="571.50" stroke="#2a2a2a" stroke-width="1.1" />
<text x="191.20" y="569.00" font-size="10" letter-spacing="-0.1" fill="#111"><tspan font-style="italic">P</tspan> &lt; 0.0001</text>
<line x1="183.10" y1="589.50" x2="213.60" y2="589.50" stroke="#2a2a2a" stroke-width="1.1" />
<text x="183.10" y="586.90" font-size="10" letter-spacing="-0.1" fill="#111"><tspan font-style="italic">P</tspan> = 0.0001</text>
<line x1="183.10" y1="607.50" x2="198.70" y2="607.50" stroke="#6e6e6e" stroke-width="1.2" />
<text x="178.30" y="605.00" font-size="10" letter-spacing="-0.1" fill="#111"><tspan font-style="italic">P</tspan> &lt; 0.0001</text>
<text x="253.00" y="555.80" font-size="19" text-anchor="start" font-weight="bold" fill="#111" >f</text>
<rect x="304.50" y="636.40" width="7.90" height="29.80" fill="#ece383" stroke="#262626" stroke-width="0.8"/>
<rect x="317.80" y="631.20" width="7.80" height="35.00" fill="#a6e0d6" stroke="#262626" stroke-width="0.8"/>
<rect x="331.10" y="599.60" width="8.00" height="66.60" fill="#6fa3db" stroke="#262626" stroke-width="0.8"/>
<line x1="299.40" y1="576.20" x2="299.40" y2="666.70" stroke="#1a1a1a" stroke-width="1.0" />
<line x1="298.90" y1="666.20" x2="344.20" y2="666.20" stroke="#1a1a1a" stroke-width="1.0" />
<line x1="295.40" y1="576.70" x2="299.40" y2="576.70" stroke="#1a1a1a" stroke-width="1.0" />
<text x="292.80" y="579.80" font-size="9.8" text-anchor="end" fill="#111" >0.04</text>
<line x1="295.40" y1="599.20" x2="299.40" y2="599.20" stroke="#1a1a1a" stroke-width="1.0" />
<text x="292.80" y="602.30" font-size="9.8" text-anchor="end" fill="#111" >0.03</text>
<line x1="295.40" y1="621.50" x2="299.40" y2="621.50" stroke="#1a1a1a" stroke-width="1.0" />
<text x="292.80" y="624.60" font-size="9.8" text-anchor="end" fill="#111" >0.02</text>
<line x1="295.40" y1="643.80" x2="299.40" y2="643.80" stroke="#1a1a1a" stroke-width="1.0" />
<text x="292.80" y="646.90" font-size="9.8" text-anchor="end" fill="#111" >0.01</text>
<line x1="295.40" y1="666.20" x2="299.40" y2="666.20" stroke="#1a1a1a" stroke-width="1.0" />
<text x="292.80" y="669.30" font-size="9.8" text-anchor="end" fill="#111" >0</text>
<line x1="308.45" y1="666.20" x2="308.45" y2="670.00" stroke="#1a1a1a" stroke-width="1.0" />
<line x1="321.70" y1="666.20" x2="321.70" y2="670.00" stroke="#1a1a1a" stroke-width="1.0" />
<line x1="335.10" y1="666.20" x2="335.10" y2="670.00" stroke="#1a1a1a" stroke-width="1.0" />
<line x1="308.45" y1="632.50" x2="308.45" y2="639.60" stroke="#000" stroke-width="0.8" />
<line x1="306.05" y1="632.50" x2="310.85" y2="632.50" stroke="#000" stroke-width="0.8" />
<line x1="306.05" y1="639.60" x2="310.85" y2="639.60" stroke="#000" stroke-width="0.8" />
<line x1="321.70" y1="629.60" x2="321.70" y2="632.00" stroke="#000" stroke-width="0.8" />
<line x1="319.30" y1="629.60" x2="324.10" y2="629.60" stroke="#000" stroke-width="0.8" />
<line x1="319.30" y1="632.00" x2="324.10" y2="632.00" stroke="#000" stroke-width="0.8" />
<line x1="335.10" y1="593.50" x2="335.10" y2="605.80" stroke="#000" stroke-width="0.8" />
<line x1="332.70" y1="593.50" x2="337.50" y2="593.50" stroke="#000" stroke-width="0.8" />
<line x1="332.70" y1="605.80" x2="337.50" y2="605.80" stroke="#000" stroke-width="0.8" />
<circle cx="308.40" cy="632.80" r="1.15" fill="#000"/>
<circle cx="308.40" cy="636.10" r="1.15" fill="#000"/>
<circle cx="308.40" cy="639.30" r="1.15" fill="#000"/>
<circle cx="319.90" cy="630.90" r="1.15" fill="#000"/>
<circle cx="321.70" cy="630.70" r="1.15" fill="#000"/>
<circle cx="323.50" cy="630.90" r="1.15" fill="#000"/>
<circle cx="335.10" cy="593.50" r="1.15" fill="#000"/>
<circle cx="335.10" cy="599.30" r="1.15" fill="#000"/>
<circle cx="335.10" cy="605.30" r="1.15" fill="#000"/>
<text x="311.75" y="676.80" font-size="10.0" text-anchor="end" transform="rotate(-45 311.75 676.80)" fill="#111" >Mock</text>
<text x="326.70" y="676.80" font-size="10.0" text-anchor="end" font-style="italic" transform="rotate(-45 326.70 676.80)" fill="#111" >TaPHR2-OE-2</text>
<text x="340.10" y="676.80" font-size="10.0" text-anchor="end" font-style="italic" transform="rotate(-45 340.10 676.80)" fill="#111" >TaPHR2-OE-5</text>
<text x="269.30" y="624.30" font-size="9.8" text-anchor="middle" font-style="italic" transform="rotate(-90 269.30 624.30)" fill="#111" >TaIPS1.1/ACT</text>
<line x1="305.90" y1="572.50" x2="336.80" y2="572.50" stroke="#2a2a2a" stroke-width="1.1" />
<text x="305.90" y="569.70" font-size="10" letter-spacing="-0.1" fill="#111"><tspan font-style="italic">P</tspan> = 0.0007</text>
<line x1="305.90" y1="590.50" x2="321.10" y2="590.50" stroke="#6e6e6e" stroke-width="1.2" />
<text x="301.00" y="588.10" font-size="10" letter-spacing="-0.1" fill="#111"><tspan font-style="italic">P</tspan> = 0.5479</text>
<rect x="390.70" y="663.10" width="8.00" height="3.10" fill="#ece383" stroke="#262626" stroke-width="0.8"/>
<rect x="404.10" y="630.70" width="8.20" height="35.50" fill="#a6e0d6" stroke="#262626" stroke-width="0.8"/>
<rect x="417.70" y="603.70" width="8.00" height="62.50" fill="#6fa3db" stroke="#262626" stroke-width="0.8"/>
<line x1="386.00" y1="576.20" x2="386.00" y2="666.70" stroke="#1a1a1a" stroke-width="1.0" />
<line x1="385.50" y1="666.20" x2="430.80" y2="666.20" stroke="#1a1a1a" stroke-width="1.0" />
<line x1="382.00" y1="576.70" x2="386.00" y2="576.70" stroke="#1a1a1a" stroke-width="1.0" />
<text x="379.40" y="579.80" font-size="9.8" text-anchor="end" fill="#111" >1.2</text>
<line x1="382.00" y1="606.50" x2="386.00" y2="606.50" stroke="#1a1a1a" stroke-width="1.0" />
<text x="379.40" y="609.60" font-size="9.8" text-anchor="end" fill="#111" >0.8</text>
<line x1="382.00" y1="636.30" x2="386.00" y2="636.30" stroke="#1a1a1a" stroke-width="1.0" />
<text x="379.40" y="639.40" font-size="9.8" text-anchor="end" fill="#111" >0.4</text>
<line x1="382.00" y1="666.20" x2="386.00" y2="666.20" stroke="#1a1a1a" stroke-width="1.0" />
<text x="379.40" y="669.30" font-size="9.8" text-anchor="end" fill="#111" >0</text>
<line x1="394.70" y1="666.20" x2="394.70" y2="670.00" stroke="#1a1a1a" stroke-width="1.0" />
<line x1="408.20" y1="666.20" x2="408.20" y2="670.00" stroke="#1a1a1a" stroke-width="1.0" />
<line x1="421.70" y1="666.20" x2="421.70" y2="670.00" stroke="#1a1a1a" stroke-width="1.0" />
<line x1="394.70" y1="661.60" x2="394.70" y2="663.60" stroke="#000" stroke-width="0.8" />
<line x1="392.30" y1="661.60" x2="397.10" y2="661.60" stroke="#000" stroke-width="0.8" />
<line x1="392.30" y1="663.60" x2="397.10" y2="663.60" stroke="#000" stroke-width="0.8" />
<line x1="408.20" y1="619.40" x2="408.20" y2="642.60" stroke="#000" stroke-width="0.8" />
<line x1="405.80" y1="619.40" x2="410.60" y2="619.40" stroke="#000" stroke-width="0.8" />
<line x1="405.80" y1="642.60" x2="410.60" y2="642.60" stroke="#000" stroke-width="0.8" />
<line x1="421.70" y1="589.60" x2="421.70" y2="617.90" stroke="#000" stroke-width="0.8" />
<line x1="419.30" y1="589.60" x2="424.10" y2="589.60" stroke="#000" stroke-width="0.8" />
<line x1="419.30" y1="617.90" x2="424.10" y2="617.90" stroke="#000" stroke-width="0.8" />
<circle cx="393.20" cy="662.60" r="1.15" fill="#000"/>
<circle cx="394.80" cy="662.40" r="1.15" fill="#000"/>
<circle cx="396.40" cy="662.60" r="1.15" fill="#000"/>
<circle cx="408.20" cy="622.30" r="1.15" fill="#000"/>
<circle cx="408.20" cy="625.60" r="1.15" fill="#000"/>
<circle cx="408.20" cy="642.60" r="1.15" fill="#000"/>
<circle cx="421.70" cy="589.60" r="1.15" fill="#000"/>
<circle cx="421.70" cy="601.30" r="1.15" fill="#000"/>
<circle cx="421.70" cy="617.50" r="1.15" fill="#000"/>
<text x="398.00" y="676.80" font-size="10.0" text-anchor="end" transform="rotate(-45 398.00 676.80)" fill="#111" >Mock</text>
<text x="413.20" y="676.80" font-size="10.0" text-anchor="end" font-style="italic" transform="rotate(-45 413.20 676.80)" fill="#111" >TaPHR2-OE-2</text>
<text x="426.70" y="676.80" font-size="10.0" text-anchor="end" font-style="italic" transform="rotate(-45 426.70 676.80)" fill="#111" >TaPHR2-OE-5</text>
<text x="361.50" y="622.60" font-size="9.8" text-anchor="middle" font-style="italic" transform="rotate(-90 361.50 622.60)" fill="#111" >TaPht1;2/ACT</text>
<line x1="392.80" y1="572.50" x2="423.10" y2="572.50" stroke="#2a2a2a" stroke-width="1.1" />
<text x="392.80" y="569.70" font-size="10" letter-spacing="-0.1" fill="#111"><tspan font-style="italic">P</tspan> = 0.0017</text>
<line x1="392.80" y1="590.50" x2="407.90" y2="590.50" stroke="#6e6e6e" stroke-width="1.2" />
<text x="387.90" y="588.10" font-size="10" letter-spacing="-0.1" fill="#111"><tspan font-style="italic">P</tspan> = 0.0065</text>
<rect x="478.20" y="662.60" width="8.10" height="3.60" fill="#ece383" stroke="#262626" stroke-width="0.8"/>
<rect x="491.80" y="628.60" width="7.90" height="37.60" fill="#a6e0d6" stroke="#262626" stroke-width="0.8"/>
<rect x="505.20" y="608.00" width="8.00" height="58.20" fill="#6fa3db" stroke="#262626" stroke-width="0.8"/>
<line x1="473.30" y1="576.20" x2="473.30" y2="666.70" stroke="#1a1a1a" stroke-width="1.0" />
<line x1="472.80" y1="666.20" x2="518.30" y2="666.20" stroke="#1a1a1a" stroke-width="1.0" />
<line x1="469.30" y1="576.70" x2="473.30" y2="576.70" stroke="#1a1a1a" stroke-width="1.0" />
<text x="466.70" y="579.80" font-size="9.8" text-anchor="end" fill="#111" >0.6</text>
<line x1="469.30" y1="606.50" x2="473.30" y2="606.50" stroke="#1a1a1a" stroke-width="1.0" />
<text x="466.70" y="609.60" font-size="9.8" text-anchor="end" fill="#111" >0.4</text>
<line x1="469.30" y1="636.30" x2="473.30" y2="636.30" stroke="#1a1a1a" stroke-width="1.0" />
<text x="466.70" y="639.40" font-size="9.8" text-anchor="end" fill="#111" >0.2</text>
<line x1="469.30" y1="666.20" x2="473.30" y2="666.20" stroke="#1a1a1a" stroke-width="1.0" />
<text x="466.70" y="669.30" font-size="9.8" text-anchor="end" fill="#111" >0</text>
<line x1="482.25" y1="666.20" x2="482.25" y2="670.00" stroke="#1a1a1a" stroke-width="1.0" />
<line x1="495.75" y1="666.20" x2="495.75" y2="670.00" stroke="#1a1a1a" stroke-width="1.0" />
<line x1="509.20" y1="666.20" x2="509.20" y2="670.00" stroke="#1a1a1a" stroke-width="1.0" />
<line x1="482.25" y1="661.60" x2="482.25" y2="663.00" stroke="#000" stroke-width="0.8" />
<line x1="479.85" y1="661.60" x2="484.65" y2="661.60" stroke="#000" stroke-width="0.8" />
<line x1="479.85" y1="663.00" x2="484.65" y2="663.00" stroke="#000" stroke-width="0.8" />
<line x1="495.75" y1="614.70" x2="495.75" y2="640.90" stroke="#000" stroke-width="0.8" />
<line x1="493.35" y1="614.70" x2="498.15" y2="614.70" stroke="#000" stroke-width="0.8" />
<line x1="493.35" y1="640.90" x2="498.15" y2="640.90" stroke="#000" stroke-width="0.8" />
<line x1="509.20" y1="593.20" x2="509.20" y2="621.50" stroke="#000" stroke-width="0.8" />
<line x1="506.80" y1="593.20" x2="511.60" y2="593.20" stroke="#000" stroke-width="0.8" />
<line x1="506.80" y1="621.50" x2="511.60" y2="621.50" stroke="#000" stroke-width="0.8" />
<circle cx="480.60" cy="662.20" r="1.15" fill="#000"/>
<circle cx="482.20" cy="662.00" r="1.15" fill="#000"/>
<circle cx="483.80" cy="662.20" r="1.15" fill="#000"/>
<circle cx="494.40" cy="619.90" r="1.15" fill="#000"/>
<circle cx="497.40" cy="620.70" r="1.15" fill="#000"/>
<circle cx="495.80" cy="643.70" r="1.15" fill="#000"/>
<circle cx="509.20" cy="590.80" r="1.15" fill="#000"/>
<circle cx="509.20" cy="613.90" r="1.15" fill="#000"/>
<circle cx="509.20" cy="617.00" r="1.15" fill="#000"/>
<text x="485.55" y="676.80" font-size="10.0" text-anchor="end" transform="rotate(-45 485.55 676.80)" fill="#111" >Mock</text>
<text x="500.75" y="676.80" font-size="10.0" text-anchor="end" font-style="italic" transform="rotate(-45 500.75 676.80)" fill="#111" >TaPHR2-OE-2</text>
<text x="514.20" y="676.80" font-size="10.0" text-anchor="end" font-style="italic" transform="rotate(-45 514.20 676.80)" fill="#111" >TaPHR2-OE-5</text>
<text x="448.10" y="620.60" font-size="9.8" text-anchor="middle" font-style="italic" transform="rotate(-90 448.10 620.60)" fill="#111" >TaPHT1;6/ACT</text>
<line x1="480.10" y1="572.50" x2="510.60" y2="572.50" stroke="#2a2a2a" stroke-width="1.1" />
<text x="480.10" y="569.70" font-size="10" letter-spacing="-0.1" fill="#111"><tspan font-style="italic">P</tspan> = 0.0026</text>
<line x1="480.10" y1="590.50" x2="495.20" y2="590.50" stroke="#6e6e6e" stroke-width="1.2" />
<text x="475.30" y="588.10" font-size="10" letter-spacing="-0.1" fill="#111"><tspan font-style="italic">P</tspan> = 0.0113</text>
<text x="534.60" y="554.60" font-size="19" text-anchor="start" font-weight="bold" fill="#111" >g</text>
<rect x="585.40" y="645.40" width="10.70" height="20.00" fill="#ede27e" stroke="#262626" stroke-width="0.8"/>
<rect x="602.50" y="619.10" width="10.80" height="46.30" fill="#5db07c" stroke="#262626" stroke-width="0.8"/>
<rect x="619.50" y="631.60" width="11.00" height="33.80" fill="#a5d4a6" stroke="#262626" stroke-width="0.8"/>
<rect x="636.60" y="598.10" width="10.80" height="67.30" fill="#a9a7c5" stroke="#262626" stroke-width="0.8"/>
<rect x="653.70" y="612.70" width="10.80" height="52.70" fill="#e8e8f7" stroke="#262626" stroke-width="0.8"/>
<line x1="578.70" y1="573.30" x2="578.70" y2="665.90" stroke="#1a1a1a" stroke-width="1.0" />
<line x1="578.20" y1="665.40" x2="671.60" y2="665.40" stroke="#1a1a1a" stroke-width="1.0" />
<line x1="574.70" y1="573.80" x2="578.70" y2="573.80" stroke="#1a1a1a" stroke-width="1.0" />
<text x="573.00" y="576.60" font-size="9.8" text-anchor="end" fill="#111" >1.5</text>
<line x1="574.70" y1="604.40" x2="578.70" y2="604.40" stroke="#1a1a1a" stroke-width="1.0" />
<text x="573.00" y="606.70" font-size="9.8" text-anchor="end" fill="#111" >1</text>
<line x1="574.70" y1="634.90" x2="578.70" y2="634.90" stroke="#1a1a1a" stroke-width="1.0" />
<text x="573.00" y="638.00" font-size="9.8" text-anchor="end" fill="#111" >0.5</text>
<line x1="574.70" y1="665.40" x2="578.70" y2="665.40" stroke="#1a1a1a" stroke-width="1.0" />
<text x="573.00" y="669.20" font-size="9.8" text-anchor="end" fill="#111" >0</text>
<line x1="590.75" y1="665.40" x2="590.75" y2="669.20" stroke="#1a1a1a" stroke-width="1.0" />
<line x1="607.90" y1="665.40" x2="607.90" y2="669.20" stroke="#1a1a1a" stroke-width="1.0" />
<line x1="625.00" y1="665.40" x2="625.00" y2="669.20" stroke="#1a1a1a" stroke-width="1.0" />
<line x1="642.00" y1="665.40" x2="642.00" y2="669.20" stroke="#1a1a1a" stroke-width="1.0" />
<line x1="659.10" y1="665.40" x2="659.10" y2="669.20" stroke="#1a1a1a" stroke-width="1.0" />
<line x1="590.75" y1="643.10" x2="590.75" y2="647.30" stroke="#000" stroke-width="0.8" />
<line x1="588.15" y1="643.10" x2="593.35" y2="643.10" stroke="#000" stroke-width="0.8" />
<line x1="588.15" y1="647.30" x2="593.35" y2="647.30" stroke="#000" stroke-width="0.8" />
<line x1="607.90" y1="612.90" x2="607.90" y2="624.60" stroke="#000" stroke-width="0.8" />
<line x1="605.30" y1="612.90" x2="610.50" y2="612.90" stroke="#000" stroke-width="0.8" />
<line x1="605.30" y1="624.60" x2="610.50" y2="624.60" stroke="#000" stroke-width="0.8" />
<line x1="625.00" y1="627.10" x2="625.00" y2="635.50" stroke="#000" stroke-width="0.8" />
<line x1="622.40" y1="627.10" x2="627.60" y2="627.10" stroke="#000" stroke-width="0.8" />
<line x1="622.40" y1="635.50" x2="627.60" y2="635.50" stroke="#000" stroke-width="0.8" />
<line x1="642.00" y1="586.00" x2="642.00" y2="608.70" stroke="#000" stroke-width="0.8" />
<line x1="639.40" y1="586.00" x2="644.60" y2="586.00" stroke="#000" stroke-width="0.8" />
<line x1="639.40" y1="608.70" x2="644.60" y2="608.70" stroke="#000" stroke-width="0.8" />
<line x1="659.10" y1="603.30" x2="659.10" y2="620.40" stroke="#000" stroke-width="0.8" />
<line x1="656.50" y1="603.30" x2="661.70" y2="603.30" stroke="#000" stroke-width="0.8" />
<line x1="656.50" y1="620.40" x2="661.70" y2="620.40" stroke="#000" stroke-width="0.8" />
<circle cx="590.80" cy="642.20" r="1.15" fill="#000"/>
<circle cx="588.50" cy="643.30" r="1.15" fill="#000"/>
<circle cx="593.10" cy="644.10" r="1.15" fill="#000"/>
<circle cx="590.80" cy="644.50" r="1.15" fill="#000"/>
<circle cx="586.40" cy="644.80" r="1.15" fill="#000"/>
<circle cx="588.50" cy="645.50" r="1.15" fill="#000"/>
<circle cx="595.20" cy="645.90" r="1.15" fill="#000"/>
<circle cx="594.20" cy="646.20" r="1.15" fill="#000"/>
<circle cx="590.80" cy="647.00" r="1.15" fill="#000"/>
<circle cx="588.50" cy="647.80" r="1.15" fill="#000"/>
<circle cx="607.90" cy="610.40" r="1.15" fill="#000"/>
<circle cx="607.90" cy="612.90" r="1.15" fill="#000"/>
<circle cx="605.60" cy="614.60" r="1.15" fill="#000"/>
<circle cx="607.90" cy="616.30" r="1.15" fill="#000"/>
<circle cx="605.60" cy="618.00" r="1.15" fill="#000"/>
<circle cx="607.90" cy="620.50" r="1.15" fill="#000"/>
<circle cx="607.90" cy="623.00" r="1.15" fill="#000"/>
<circle cx="607.90" cy="625.40" r="1.15" fill="#000"/>
<circle cx="605.60" cy="627.50" r="1.15" fill="#000"/>
<circle cx="607.90" cy="629.00" r="1.15" fill="#000"/>
<circle cx="625.00" cy="624.60" r="1.15" fill="#000"/>
<circle cx="625.00" cy="627.10" r="1.15" fill="#000"/>
<circle cx="622.70" cy="628.50" r="1.15" fill="#000"/>
<circle cx="625.00" cy="629.80" r="1.15" fill="#000"/>
<circle cx="622.70" cy="631.00" r="1.15" fill="#000"/>
<circle cx="625.00" cy="632.40" r="1.15" fill="#000"/>
<circle cx="622.70" cy="633.80" r="1.15" fill="#000"/>
<circle cx="625.00" cy="635.30" r="1.15" fill="#000"/>
<circle cx="622.70" cy="636.60" r="1.15" fill="#000"/>
<circle cx="627.30" cy="637.30" r="1.15" fill="#000"/>
<circle cx="642.00" cy="580.50" r="1.15" fill="#000"/>
<circle cx="642.00" cy="587.00" r="1.15" fill="#000"/>
<circle cx="642.00" cy="590.50" r="1.15" fill="#000"/>
<circle cx="642.00" cy="595.00" r="1.15" fill="#000"/>
<circle cx="642.00" cy="599.00" r="1.15" fill="#000"/>
<circle cx="642.00" cy="603.50" r="1.15" fill="#000"/>
<circle cx="642.00" cy="606.00" r="1.15" fill="#000"/>
<circle cx="642.00" cy="608.50" r="1.15" fill="#000"/>
<circle cx="639.70" cy="610.50" r="1.15" fill="#000"/>
<circle cx="642.00" cy="613.70" r="1.15" fill="#000"/>
<circle cx="659.10" cy="600.00" r="1.15" fill="#000"/>
<circle cx="659.10" cy="603.00" r="1.15" fill="#000"/>
<circle cx="659.10" cy="606.00" r="1.15" fill="#000"/>
<circle cx="659.10" cy="610.00" r="1.15" fill="#000"/>
<circle cx="659.10" cy="613.50" r="1.15" fill="#000"/>
<circle cx="659.10" cy="616.50" r="1.15" fill="#000"/>
<circle cx="659.10" cy="619.00" r="1.15" fill="#000"/>
<circle cx="659.10" cy="621.50" r="1.15" fill="#000"/>
<circle cx="656.80" cy="623.50" r="1.15" fill="#000"/>
<circle cx="659.10" cy="624.80" r="1.15" fill="#000"/>
<text x="594.05" y="676.00" font-size="10.0" text-anchor="end" transform="rotate(-45 594.05 676.00)" fill="#111" >Mock</text>
<text x="612.90" y="676.00" font-size="10.0" text-anchor="end" font-style="italic" transform="rotate(-45 612.90 676.00)" fill="#111" >Mock </text>
<text x="630.00" y="676.00" font-size="10.0" text-anchor="end" font-style="italic" transform="rotate(-45 630.00 676.00)" fill="#111" >TaTCP6-SRDX-1</text>
<text x="647.00" y="676.00" font-size="10.0" text-anchor="end" font-style="italic" transform="rotate(-45 647.00 676.00)" fill="#111" >Mock </text>
<text x="664.10" y="676.00" font-size="10.0" text-anchor="end" font-style="italic" transform="rotate(-45 664.10 676.00)" fill="#111" >TaTCP6-SRDX-1</text>
<text x="553.00" y="619.70" font-size="9.8" text-anchor="middle" transform="rotate(-90 553.00 619.70)" fill="#111" >Pi content (mg/g)</text>
<line x1="634.10" y1="572.50" x2="664.80" y2="572.50" stroke="#2a2a2a" stroke-width="1.1" />
<text x="624.60" y="569.80" font-size="10" letter-spacing="-0.1" fill="#111"><tspan font-style="italic">P</tspan> = 0.0076</text>
<line x1="601.40" y1="596.50" x2="631.80" y2="596.50" stroke="#2a2a2a" stroke-width="1.1" />
<text x="591.80" y="594.30" font-size="10" letter-spacing="-0.1" fill="#111"><tspan font-style="italic">P</tspan> &lt; 0.0001</text>
<line x1="566.10" y1="730.50" x2="597.80" y2="730.50" stroke="#333" stroke-width="1.2" />
<line x1="612.50" y1="730.50" x2="643.90" y2="730.50" stroke="#333" stroke-width="1.2" />
<text x="541.70" y="740.50" font-size="10.0" text-anchor="start" font-style="italic" fill="#111" >TaPHR2-OE-2</text>
<text x="607.80" y="740.50" font-size="10.0" text-anchor="start" font-style="italic" fill="#111" >TaPHR2-OE-5</text>
</svg>
</body></html>
